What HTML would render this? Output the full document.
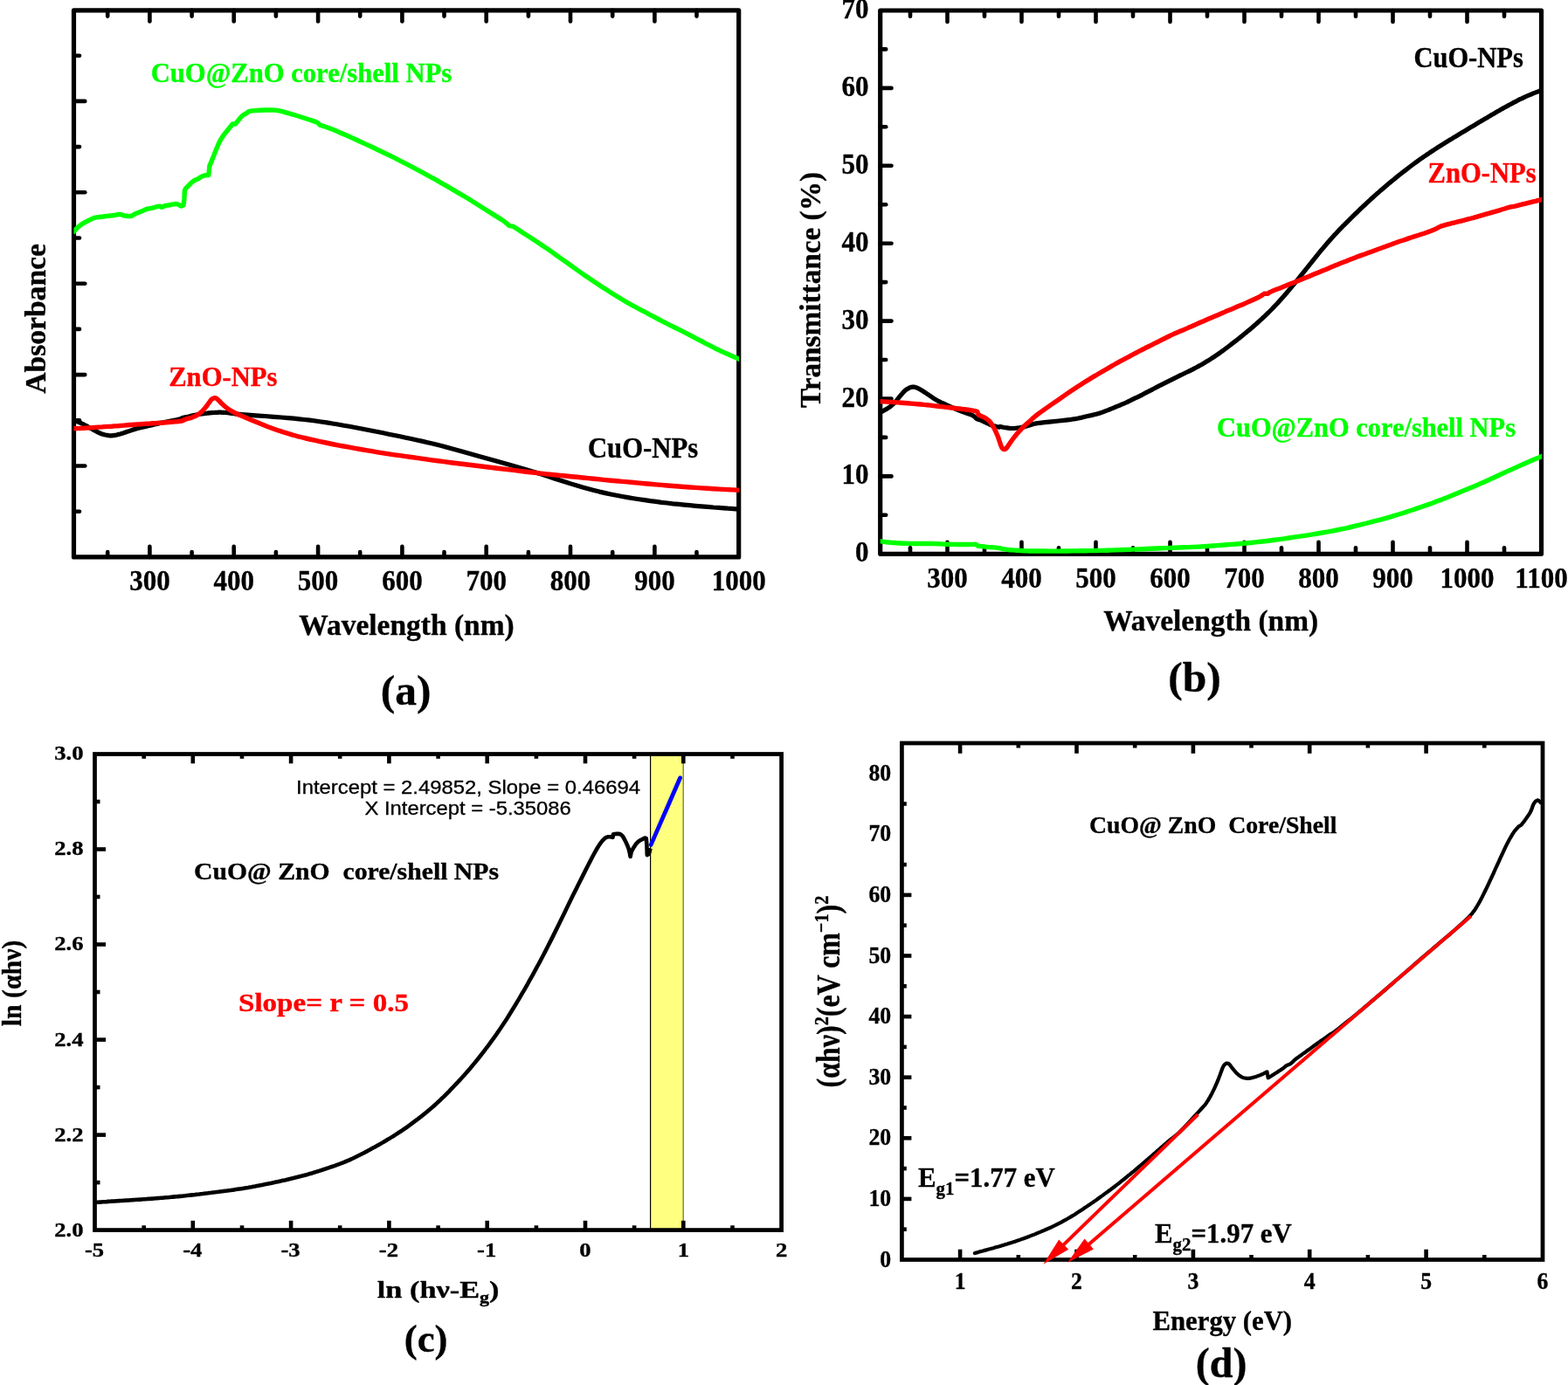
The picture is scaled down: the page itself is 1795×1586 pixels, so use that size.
<!DOCTYPE html>
<html lang="en"><head><meta charset="utf-8"><title>Optical properties of CuO, ZnO and CuO@ZnO core/shell NPs</title>
<style>
html,body{margin:0;padding:0;background:#fff;}
body{width:1795px;height:1586px;overflow:hidden;}
svg{display:block;}
</style></head><body>
<svg xmlns="http://www.w3.org/2000/svg" width="1795" height="1586" viewBox="0 0 1795 1586">
<rect x="0" y="0" width="1795" height="1586" fill="#fff"/>
<line x1="123.2" y1="637.9" x2="123.2" y2="632" stroke="#000" stroke-width="4.6" stroke-linecap="round"/>
<line x1="123.2" y1="11.9" x2="123.2" y2="18.6" stroke="#000" stroke-width="4.6" stroke-linecap="round"/>
<line x1="171.4" y1="637.9" x2="171.4" y2="625.9" stroke="#000" stroke-width="4.6" stroke-linecap="round"/>
<line x1="171.4" y1="11.9" x2="171.4" y2="24.5" stroke="#000" stroke-width="4.6" stroke-linecap="round"/>
<line x1="219.6" y1="637.9" x2="219.6" y2="632" stroke="#000" stroke-width="4.6" stroke-linecap="round"/>
<line x1="219.6" y1="11.9" x2="219.6" y2="18.6" stroke="#000" stroke-width="4.6" stroke-linecap="round"/>
<line x1="267.7" y1="637.9" x2="267.7" y2="625.9" stroke="#000" stroke-width="4.6" stroke-linecap="round"/>
<line x1="267.7" y1="11.9" x2="267.7" y2="24.5" stroke="#000" stroke-width="4.6" stroke-linecap="round"/>
<line x1="315.9" y1="637.9" x2="315.9" y2="632" stroke="#000" stroke-width="4.6" stroke-linecap="round"/>
<line x1="315.9" y1="11.9" x2="315.9" y2="18.6" stroke="#000" stroke-width="4.6" stroke-linecap="round"/>
<line x1="364.1" y1="637.9" x2="364.1" y2="625.9" stroke="#000" stroke-width="4.6" stroke-linecap="round"/>
<line x1="364.1" y1="11.9" x2="364.1" y2="24.5" stroke="#000" stroke-width="4.6" stroke-linecap="round"/>
<line x1="412.2" y1="637.9" x2="412.2" y2="632" stroke="#000" stroke-width="4.6" stroke-linecap="round"/>
<line x1="412.2" y1="11.9" x2="412.2" y2="18.6" stroke="#000" stroke-width="4.6" stroke-linecap="round"/>
<line x1="460.4" y1="637.9" x2="460.4" y2="625.9" stroke="#000" stroke-width="4.6" stroke-linecap="round"/>
<line x1="460.4" y1="11.9" x2="460.4" y2="24.5" stroke="#000" stroke-width="4.6" stroke-linecap="round"/>
<line x1="508.5" y1="637.9" x2="508.5" y2="632" stroke="#000" stroke-width="4.6" stroke-linecap="round"/>
<line x1="508.5" y1="11.9" x2="508.5" y2="18.6" stroke="#000" stroke-width="4.6" stroke-linecap="round"/>
<line x1="556.7" y1="637.9" x2="556.7" y2="625.9" stroke="#000" stroke-width="4.6" stroke-linecap="round"/>
<line x1="556.7" y1="11.9" x2="556.7" y2="24.5" stroke="#000" stroke-width="4.6" stroke-linecap="round"/>
<line x1="604.9" y1="637.9" x2="604.9" y2="632" stroke="#000" stroke-width="4.6" stroke-linecap="round"/>
<line x1="604.9" y1="11.9" x2="604.9" y2="18.6" stroke="#000" stroke-width="4.6" stroke-linecap="round"/>
<line x1="653" y1="637.9" x2="653" y2="625.9" stroke="#000" stroke-width="4.6" stroke-linecap="round"/>
<line x1="653" y1="11.9" x2="653" y2="24.5" stroke="#000" stroke-width="4.6" stroke-linecap="round"/>
<line x1="701.2" y1="637.9" x2="701.2" y2="632" stroke="#000" stroke-width="4.6" stroke-linecap="round"/>
<line x1="701.2" y1="11.9" x2="701.2" y2="18.6" stroke="#000" stroke-width="4.6" stroke-linecap="round"/>
<line x1="749.4" y1="637.9" x2="749.4" y2="625.9" stroke="#000" stroke-width="4.6" stroke-linecap="round"/>
<line x1="749.4" y1="11.9" x2="749.4" y2="24.5" stroke="#000" stroke-width="4.6" stroke-linecap="round"/>
<line x1="797.5" y1="637.9" x2="797.5" y2="632" stroke="#000" stroke-width="4.6" stroke-linecap="round"/>
<line x1="797.5" y1="11.9" x2="797.5" y2="18.6" stroke="#000" stroke-width="4.6" stroke-linecap="round"/>
<line x1="84.5" y1="63.7" x2="91" y2="63.7" stroke="#000" stroke-width="4.6" stroke-linecap="round"/>
<line x1="84.5" y1="115.9" x2="97.3" y2="115.9" stroke="#000" stroke-width="4.6" stroke-linecap="round"/>
<line x1="84.5" y1="168.1" x2="91" y2="168.1" stroke="#000" stroke-width="4.6" stroke-linecap="round"/>
<line x1="84.5" y1="220.3" x2="97.3" y2="220.3" stroke="#000" stroke-width="4.6" stroke-linecap="round"/>
<line x1="84.5" y1="272.5" x2="91" y2="272.5" stroke="#000" stroke-width="4.6" stroke-linecap="round"/>
<line x1="84.5" y1="324.7" x2="97.3" y2="324.7" stroke="#000" stroke-width="4.6" stroke-linecap="round"/>
<line x1="84.5" y1="376.9" x2="91" y2="376.9" stroke="#000" stroke-width="4.6" stroke-linecap="round"/>
<line x1="84.5" y1="429.1" x2="97.3" y2="429.1" stroke="#000" stroke-width="4.6" stroke-linecap="round"/>
<line x1="84.5" y1="481.3" x2="91" y2="481.3" stroke="#000" stroke-width="4.6" stroke-linecap="round"/>
<line x1="84.5" y1="533.5" x2="97.3" y2="533.5" stroke="#000" stroke-width="4.6" stroke-linecap="round"/>
<line x1="84.5" y1="585.7" x2="91" y2="585.7" stroke="#000" stroke-width="4.6" stroke-linecap="round"/>
<rect x="84.5" y="11.9" width="761.2" height="626" fill="none" stroke="#000" stroke-width="5.2" stroke-linejoin="round"/>
<clipPath id="ca"><rect x="84.5" y="11.9" width="761.6" height="626"/></clipPath>
<path d="M82.5 480.7 L83.8 481.2 L85.8 481.9 L88.1 482.7 L90.4 483.6 L92.3 484.3 L93.7 485 L95 485.6 L96.1 486.2 L97.2 486.8 L98.4 487.4 L99.6 488.1 L100.8 488.8 L102.1 489.5 L103.3 490.2 L104.5 490.8 L105.7 491.5 L107 492.2 L108.2 492.9 L109.4 493.5 L110.6 494.2 L111.9 494.8 L113.1 495.4 L114.3 496 L115.5 496.5 L116.8 497 L118 497.4 L119.3 497.7 L120.6 498 L121.8 498.2 L122.9 498.4 L123.8 498.6 L124.5 498.7 L125.1 498.8 L125.8 498.8 L126.6 498.8 L127.5 498.8 L128.4 498.8 L129.4 498.7 L130.4 498.6 L131.5 498.4 L132.6 498.2 L133.8 498 L135.1 497.6 L136.4 497.3 L137.6 497 L138.8 496.6 L140 496.2 L141.2 495.9 L142.4 495.4 L143.7 495 L145.1 494.5 L146.5 494.1 L148 493.6 L149.5 493.1 L151.1 492.6 L152.7 492.1 L154.3 491.6 L155.9 491.1 L157.7 490.6 L159.7 490.1 L161.9 489.5 L164.3 489 L166.8 488.4 L169.4 487.8 L171.9 487.2 L174.4 486.6 L176.8 486 L179.3 485.4 L181.7 484.9 L184.2 484.3 L186.7 483.8 L189.3 483.3 L191.8 482.8 L194.2 482.3 L196.4 481.9 L198.4 481.5 L200.3 481.1 L202 480.8 L203.6 480.4 L205 480.1 L206.2 479.7 L207.2 479.3 L208.1 478.9 L209 478.5 L209.9 478.2 L210.9 478 L211.8 477.8 L212.8 477.7 L213.8 477.6 L214.8 477.4 L216 477.1 L217.2 476.8 L218.4 476.4 L219.7 476.1 L220.9 475.8 L222.2 475.5 L223.4 475.2 L224.6 475 L225.8 474.8 L227.1 474.5 L228.3 474.3 L229.5 474.2 L230.8 474 L232 473.8 L233.2 473.7 L234.4 473.5 L235.7 473.4 L236.9 473.2 L238.1 473.1 L239.3 472.9 L240.6 472.8 L241.8 472.7 L243 472.6 L244.2 472.5 L245.5 472.5 L246.7 472.4 L247.9 472.3 L249.1 472.3 L250.4 472.2 L251.6 472.2 L252.8 472.2 L254 472.3 L255.3 472.3 L256.5 472.4 L257.7 472.5 L258.8 472.5 L259.9 472.6 L261 472.7 L262.2 472.9 L263.8 473.1 L265.4 473.3 L266.7 473.5 L268.5 473.8 L271.4 474.1 L276.1 474.5 L283.4 475.1 L292.8 475.8 L303.2 476.5 L313.4 477.3 L322.3 478 L329.7 478.6 L336.2 479.2 L342.4 479.8 L348.4 480.5 L354.6 481.2 L361.1 482 L367.5 483 L374 483.9 L380.5 485 L386.9 486 L393.4 487.2 L399.9 488.3 L406.3 489.5 L412.8 490.8 L419.2 492 L425.7 493.3 L432.2 494.5 L438.6 495.8 L445.1 497.2 L451.6 498.5 L458 499.8 L464.5 501.2 L470.9 502.5 L477.4 504 L483.9 505.4 L489.5 506.7 L494.2 507.8 L499.4 509.1 L506.3 510.8 L516.2 513.5 L530.8 517.5 L549.3 522.7 L569.2 528.3 L587.7 533.5 L602.3 537.7 L612.2 540.7 L619.1 542.8 L624.3 544.5 L629 546.1 L634.6 547.9 L641.1 550 L647.5 552 L654 554.1 L660.5 556.1 L666.9 557.9 L673.4 559.7 L679.9 561.4 L686.3 563.1 L692.8 564.6 L699.2 566 L705.7 567.3 L712.2 568.5 L718.6 569.6 L725.1 570.7 L731.6 571.7 L738 572.6 L744.5 573.6 L750.9 574.4 L757.4 575.3 L763.9 576 L770.3 576.8 L776.8 577.4 L783.3 578.1 L789.7 578.7 L796.2 579.3 L802.9 579.8 L809.9 580.4 L816.7 581 L823.1 581.4 L828.5 581.8 L832.9 582.2 L836.5 582.4 L839.5 582.6 L842.2 582.8 L844.7 583 L846.9 583.1 L848.9 583.2 L850.5 583.3 L851.8 583.4 L852.7 583.5" fill="none" stroke="#000" stroke-width="5.2" stroke-linecap="butt" stroke-linejoin="round" clip-path="url(#ca)"/>
<path d="M82.5 490.8 L84.6 490.7 L87.6 490.6 L91.1 490.5 L94.8 490.3 L98.4 490.1 L101.9 489.9 L105.6 489.7 L109.3 489.4 L113.1 489.1 L116.8 488.9 L120.4 488.6 L124.1 488.4 L127.8 488.2 L131.5 487.9 L135.2 487.7 L138.8 487.4 L142.5 487.1 L146.2 486.8 L149.9 486.5 L153.5 486.2 L157.2 485.9 L160.9 485.7 L164.6 485.4 L168.2 485.2 L171.9 485 L175.7 484.7 L179.6 484.5 L183.4 484.2 L187 484 L190.3 483.7 L193.2 483.5 L195.9 483.3 L198.4 483.1 L200.6 482.9 L202.6 482.8 L204.2 482.6 L205.6 482.4 L206.8 482.3 L207.8 482.1 L208.7 481.9 L209.5 481.6 L210.1 481.3 L210.7 480.9 L211.2 480.6 L211.8 480.3 L212.3 480.1 L212.8 480 L213.4 479.8 L214 479.7 L214.8 479.4 L215.8 479.2 L217 478.8 L218.3 478.5 L219.7 478.1 L220.9 477.6 L222.2 477.1 L223.5 476.5 L224.7 475.9 L225.9 475.3 L227.1 474.5 L228.1 473.8 L229.2 472.9 L230.1 472.1 L231.1 471.2 L232 470.3 L232.9 469.3 L233.8 468.3 L234.7 467.3 L235.5 466.3 L236.3 465.3 L237 464.4 L237.6 463.5 L238.2 462.7 L238.8 461.8 L239.3 461.1 L239.9 460.3 L240.4 459.6 L240.8 458.9 L241.3 458.3 L241.8 457.7 L242.3 457.3 L242.8 456.9 L243.3 456.6 L243.8 456.4 L244.2 456.2 L244.6 456 L245 455.9 L245.4 455.8 L245.7 455.8 L246.1 455.8 L246.4 455.8 L246.8 455.9 L247.1 456 L247.5 456.2 L247.9 456.4 L248.3 456.7 L248.8 457.1 L249.3 457.5 L249.8 458 L250.4 458.6 L251 459.2 L251.7 459.9 L252.4 460.7 L253.2 461.5 L254 462.3 L254.9 463.1 L255.9 464 L256.9 464.9 L257.9 465.8 L258.9 466.6 L259.9 467.3 L260.8 468 L261.8 468.7 L262.8 469.3 L263.8 470 L265 470.7 L266.2 471.4 L267.5 472 L268.7 472.7 L270 473.3 L270.8 473.8 L271.3 474 L271.9 474.3 L273.3 475 L276.1 476.1 L280.8 478.1 L287.1 480.7 L294 483.6 L300.7 486.3 L306.2 488.5 L310.3 490 L313.6 491.2 L316.5 492.2 L319.3 493.2 L322.3 494.1 L325.5 495.2 L328.8 496.2 L332 497.1 L335.2 498.1 L338.5 499 L341.4 499.8 L344.2 500.5 L347 501.2 L350.4 502 L354.6 503 L360.1 504.2 L366.4 505.6 L373.2 507 L380.2 508.5 L386.9 509.8 L393.4 511 L399.9 512.2 L406.3 513.4 L412.8 514.5 L419.2 515.6 L425.7 516.7 L432.2 517.8 L438.6 518.8 L445.1 519.8 L451.6 520.8 L458 521.7 L464.5 522.6 L470.9 523.5 L477.4 524.4 L483.9 525.3 L489.5 526.1 L494.2 526.8 L499.4 527.5 L506.3 528.4 L516.2 529.7 L530.8 531.5 L549.3 533.8 L569.2 536.2 L587.7 538.4 L602.3 540.2 L612.2 541.3 L619.1 542.1 L624.3 542.7 L629 543.1 L634.6 543.7 L641.1 544.4 L647.5 545 L654 545.7 L660.5 546.3 L666.9 547 L673.4 547.6 L679.9 548.3 L686.3 548.9 L692.8 549.6 L699.2 550.2 L705.7 550.8 L712.2 551.4 L718.6 551.9 L725.1 552.5 L731.6 553.1 L738 553.7 L744.5 554.3 L750.9 554.9 L757.4 555.4 L763.9 556 L770.3 556.5 L776.8 557 L783.3 557.5 L789.7 558 L796.2 558.4 L802.9 558.9 L809.9 559.3 L816.7 559.7 L823.1 560.1 L828.5 560.4 L832.9 560.6 L836.5 560.8 L839.5 560.9 L842.2 561.1 L844.7 561.2 L846.9 561.3 L848.9 561.3 L850.5 561.4 L851.8 561.5 L852.7 561.5" fill="none" stroke="#ff0000" stroke-width="5.4" stroke-linecap="butt" stroke-linejoin="round" clip-path="url(#ca)"/>
<path d="M83.1 266.9 L83.6 266.2 L84.4 265.2 L85.4 264.1 L86.4 263 L87.4 262 L88.3 261.1 L89.2 260.2 L90.2 259.3 L91.2 258.5 L92.3 257.7 L93.4 256.9 L94.6 256.1 L95.9 255.4 L97.1 254.7 L98.4 254 L99.6 253.3 L100.9 252.7 L102.1 252.1 L103.4 251.5 L104.5 250.9 L105.5 250.5 L106.4 250.1 L107.3 249.7 L108.3 249.4 L109.4 249.1 L110.7 248.9 L112.2 248.6 L113.7 248.5 L115.3 248.3 L116.8 248.1 L118.2 248 L119.7 247.8 L121.2 247.6 L122.7 247.4 L124.1 247.3 L125.6 247.1 L127.2 246.9 L128.7 246.7 L130.1 246.5 L131.5 246.3 L132.7 246.1 L133.9 245.8 L135 245.6 L136 245.5 L137 245.4 L137.9 245.5 L138.8 245.8 L139.6 246.1 L140.4 246.4 L141.3 246.7 L142.2 246.9 L143.2 247.1 L144.2 247.3 L145.2 247.4 L146.2 247.5 L147.1 247.6 L147.9 247.6 L148.8 247.6 L149.6 247.5 L150.5 247.3 L151.3 246.9 L152.2 246.4 L153 245.9 L153.9 245.3 L154.8 244.8 L155.7 244.4 L156.7 244.1 L157.7 243.7 L158.7 243.4 L159.7 243 L160.7 242.6 L161.7 242.1 L162.7 241.7 L163.7 241.3 L164.6 240.9 L165.3 240.5 L166 240.2 L166.7 239.9 L167.4 239.6 L168.2 239.3 L169.3 239 L170.5 238.8 L171.8 238.6 L173.1 238.3 L174.4 238.1 L175.6 237.8 L177 237.4 L178.3 237 L179.5 236.7 L180.5 236.5 L181.3 236.3 L182 236.2 L182.6 236.2 L183.1 236.2 L183.6 236.2 L184 236.4 L184.3 236.7 L184.6 237 L184.9 237.2 L185.4 237.2 L186 237.1 L186.7 236.7 L187.4 236.3 L188.2 235.9 L189.1 235.6 L189.9 235.4 L190.8 235.2 L191.8 235.1 L192.8 235 L194 234.8 L195.4 234.5 L197 234.2 L198.6 233.9 L200.1 233.7 L201.3 233.5 L202.2 233.6 L202.9 233.7 L203.4 233.9 L203.9 234.1 L204.4 234.4 L205 234.7 L205.7 235.1 L206.3 235.5 L206.9 235.8 L207.5 236 L208 235.9 L208.6 235.7 L209.1 235.5 L209.6 235.2 L209.9 235 L210.1 234.1 L210.3 232.7 L210.5 231.1 L210.7 229.4 L210.9 227.7 L211 225.7 L211.2 223.4 L211.2 221.2 L211.3 219.2 L211.4 217.9 L211.6 217.5 L211.8 217.1 L212.2 216.5 L212.5 216 L213 215.4 L213.5 214.8 L214.1 214.3 L214.7 213.6 L215.4 213 L216 212.3 L216.7 211.6 L217.5 210.9 L218.2 210.1 L219 209.3 L219.7 208.7 L220.5 208.1 L221.2 207.6 L221.9 207.1 L222.7 206.6 L223.4 206.2 L224.1 205.9 L224.9 205.6 L225.6 205.3 L226.3 205 L227.1 204.6 L227.8 204.2 L228.5 203.6 L229.3 203.1 L230 202.6 L230.8 202.2 L231.5 201.8 L232.2 201.6 L232.9 201.3 L233.7 201.1 L234.4 200.9 L235.3 200.8 L236.3 200.7 L237.3 200.6 L238.1 200.5 L238.7 200.5 L238.8 199.8 L238.9 199 L239.1 198 L239.2 196.9 L239.3 195.8 L239.5 194.6 L239.6 193.2 L239.7 191.7 L239.9 190.5 L239.9 189.7 L240.2 189.2 L240.5 188.5 L240.8 187.7 L241.3 186.6 L241.8 185.4 L242.4 183.9 L243.1 182.1 L243.9 180.2 L244.7 178.2 L245.5 176.2 L246.3 174.1 L247.2 171.9 L248.1 169.7 L249 167.6 L249.7 165.8 L250.4 164.3 L251 163 L251.6 161.8 L252.2 160.8 L252.8 159.6 L253.5 158.5 L254.2 157.4 L254.9 156.3 L255.7 155.3 L256.5 154.1 L257.4 152.9 L258.4 151.7 L259.4 150.5 L260.4 149.2 L261.4 148 L262.5 146.7 L263.6 145.2 L264.7 143.9 L265.6 142.7 L266.3 141.9 L269.4 142.1 L269.8 141.5 L270.5 140.6 L271.3 139.6 L272.2 138.6 L273 137.6 L273.8 136.6 L274.7 135.6 L275.5 134.5 L276.4 133.5 L277.3 132.7 L278.2 131.9 L279.2 131.3 L280.1 130.7 L281.2 130.2 L282.2 129.6 L283.1 129 L283.7 128.4 L284.4 127.8 L285.9 127.3 L288.4 126.9 L292.4 126.6 L297.7 126.2 L303.5 126 L309.2 125.9 L314.1 126.1 L317.9 126.5 L321.2 127.1 L324.2 127.9 L327.1 128.8 L330.1 129.7 L333.4 130.6 L336.6 131.5 L339.9 132.5 L343.1 133.5 L346.2 134.5 L349.3 135.5 L352.4 136.5 L355.4 137.5 L358.1 138.4 L360.2 139.1 L361.6 139.6 L362.6 140 L363.1 140.3 L363.5 140.5 L363.8 140.7 L366.2 143.1 L367.9 143.7 L370 144.4 L372.8 145.3 L376.2 146.5 L380.3 148.1 L385.1 150.1 L390.6 152.5 L396.8 155.1 L403.4 158 L410.3 161.2 L417.7 164.6 L425.7 168.3 L433.9 172.2 L442.3 176.2 L450.4 180.2 L458.5 184.3 L466.5 188.4 L474.5 192.6 L482.5 196.9 L490.6 201.3 L498.6 205.7 L506.6 210.3 L514.6 214.9 L522.6 219.6 L530.7 224.3 L539.2 229.5 L548.3 235.2 L557 240.7 L564.8 245.6 L570.8 249.4 L574.5 251.8 L576.5 253.1 L577.4 253.7 L578 254.2 L578.8 254.8 L579.9 255.7 L580.9 256.6 L581.7 257.3 L582.3 258 L582.8 258.4 L587.8 259.4 L591 261.5 L595.5 264.5 L600.8 267.9 L606.1 271.3 L610.9 274.5 L614.9 277.1 L618.5 279.5 L622.1 281.9 L626.1 284.6 L630.9 287.9 L636.9 292.2 L643.8 297.1 L651.1 302.3 L658.2 307.4 L664.5 311.9 L670 315.7 L675 319.1 L679.7 322.2 L684.3 325.3 L689 328.4 L693.9 331.6 L698.8 334.7 L703.7 337.8 L708.6 340.8 L713.5 343.7 L718.4 346.6 L723.3 349.3 L728.2 352 L733.1 354.6 L738.1 357.2 L743 359.8 L747.9 362.4 L752.8 365 L757.7 367.6 L762.6 370.1 L767.5 372.6 L772.4 375 L777.3 377.4 L782.2 379.9 L787.1 382.3 L792.2 385 L797.5 387.8 L802.7 390.5 L807.5 393.1 L811.6 395.2 L814.8 396.9 L817.4 398.2 L819.5 399.3 L821.6 400.3 L823.8 401.3 L826.3 402.5 L828.9 403.6 L831.4 404.8 L833.8 405.8 L836.1 406.9 L838.3 407.8 L840.4 408.8 L842.5 409.6 L844.3 410.4 L845.9 411.1 L847.3 411.7 L848.5 412.2 L849.4 412.6 L850.2 413 L850.8 413.2" fill="none" stroke="#00ff00" stroke-width="5.4" stroke-linecap="butt" stroke-linejoin="round" clip-path="url(#ca)"/>
<text transform="translate(171.4 676.4) scale(0.94 1)" font-family="'Liberation Serif','Times New Roman',serif" font-size="33" font-weight="bold" fill="#000" text-anchor="middle" stroke="#000" stroke-width="0.35" stroke-linejoin="round" xml:space="preserve">300</text>
<text transform="translate(267.7 676.4) scale(0.94 1)" font-family="'Liberation Serif','Times New Roman',serif" font-size="33" font-weight="bold" fill="#000" text-anchor="middle" stroke="#000" stroke-width="0.35" stroke-linejoin="round" xml:space="preserve">400</text>
<text transform="translate(364.1 676.4) scale(0.94 1)" font-family="'Liberation Serif','Times New Roman',serif" font-size="33" font-weight="bold" fill="#000" text-anchor="middle" stroke="#000" stroke-width="0.35" stroke-linejoin="round" xml:space="preserve">500</text>
<text transform="translate(460.4 676.4) scale(0.94 1)" font-family="'Liberation Serif','Times New Roman',serif" font-size="33" font-weight="bold" fill="#000" text-anchor="middle" stroke="#000" stroke-width="0.35" stroke-linejoin="round" xml:space="preserve">600</text>
<text transform="translate(556.7 676.4) scale(0.94 1)" font-family="'Liberation Serif','Times New Roman',serif" font-size="33" font-weight="bold" fill="#000" text-anchor="middle" stroke="#000" stroke-width="0.35" stroke-linejoin="round" xml:space="preserve">700</text>
<text transform="translate(653 676.4) scale(0.94 1)" font-family="'Liberation Serif','Times New Roman',serif" font-size="33" font-weight="bold" fill="#000" text-anchor="middle" stroke="#000" stroke-width="0.35" stroke-linejoin="round" xml:space="preserve">800</text>
<text transform="translate(749.4 676.4) scale(0.94 1)" font-family="'Liberation Serif','Times New Roman',serif" font-size="33" font-weight="bold" fill="#000" text-anchor="middle" stroke="#000" stroke-width="0.35" stroke-linejoin="round" xml:space="preserve">900</text>
<text transform="translate(845.7 676.4) scale(0.94 1)" font-family="'Liberation Serif','Times New Roman',serif" font-size="33" font-weight="bold" fill="#000" text-anchor="middle" stroke="#000" stroke-width="0.35" stroke-linejoin="round" xml:space="preserve">1000</text>
<text transform="translate(465.5 726.6)" font-family="'Liberation Serif','Times New Roman',serif" font-size="33.2" font-weight="bold" fill="#000" text-anchor="middle" textLength="246.5" lengthAdjust="spacingAndGlyphs" stroke="#000" stroke-width="0.35" stroke-linejoin="round" xml:space="preserve">Wavelength (nm)</text>
<text transform="translate(52 364.9) rotate(-90)" font-family="'Liberation Serif','Times New Roman',serif" font-size="33.2" font-weight="bold" fill="#000" text-anchor="middle" textLength="171.5" lengthAdjust="spacingAndGlyphs" stroke="#000" stroke-width="0.35" stroke-linejoin="round" xml:space="preserve">Absorbance</text>
<text transform="translate(464.6 806.6)" font-family="'Liberation Serif','Times New Roman',serif" font-size="49.5" font-weight="bold" fill="#000" text-anchor="middle" stroke="#000" stroke-width="0.35" stroke-linejoin="round" xml:space="preserve">(a)</text>
<text transform="translate(172.7 93.8)" font-family="'Liberation Serif','Times New Roman',serif" font-size="31.6" font-weight="bold" fill="#00ff00" text-anchor="start" textLength="344.6" lengthAdjust="spacingAndGlyphs" stroke="#00ff00" stroke-width="0.35" stroke-linejoin="round" xml:space="preserve">CuO@ZnO core/shell NPs</text>
<text transform="translate(193.2 442)" font-family="'Liberation Serif','Times New Roman',serif" font-size="32.2" font-weight="bold" fill="#ff0000" text-anchor="start" textLength="124.2" lengthAdjust="spacingAndGlyphs" stroke="#ff0000" stroke-width="0.35" stroke-linejoin="round" xml:space="preserve">ZnO-NPs</text>
<text transform="translate(672.9 523.6)" font-family="'Liberation Serif','Times New Roman',serif" font-size="34.6" font-weight="bold" fill="#000" text-anchor="start" textLength="126.2" lengthAdjust="spacingAndGlyphs" stroke="#000" stroke-width="0.35" stroke-linejoin="round" xml:space="preserve">CuO-NPs</text>
<line x1="1042" y1="634.3" x2="1042" y2="627.3" stroke="#000" stroke-width="4.6" stroke-linecap="round"/>
<line x1="1042" y1="12" x2="1042" y2="18.8" stroke="#000" stroke-width="4.6" stroke-linecap="round"/>
<line x1="1084.5" y1="634.3" x2="1084.5" y2="620.8" stroke="#000" stroke-width="4.6" stroke-linecap="round"/>
<line x1="1084.5" y1="12" x2="1084.5" y2="25" stroke="#000" stroke-width="4.6" stroke-linecap="round"/>
<line x1="1127" y1="634.3" x2="1127" y2="627.3" stroke="#000" stroke-width="4.6" stroke-linecap="round"/>
<line x1="1127" y1="12" x2="1127" y2="18.8" stroke="#000" stroke-width="4.6" stroke-linecap="round"/>
<line x1="1169.5" y1="634.3" x2="1169.5" y2="620.8" stroke="#000" stroke-width="4.6" stroke-linecap="round"/>
<line x1="1169.5" y1="12" x2="1169.5" y2="25" stroke="#000" stroke-width="4.6" stroke-linecap="round"/>
<line x1="1212" y1="634.3" x2="1212" y2="627.3" stroke="#000" stroke-width="4.6" stroke-linecap="round"/>
<line x1="1212" y1="12" x2="1212" y2="18.8" stroke="#000" stroke-width="4.6" stroke-linecap="round"/>
<line x1="1254.5" y1="634.3" x2="1254.5" y2="620.8" stroke="#000" stroke-width="4.6" stroke-linecap="round"/>
<line x1="1254.5" y1="12" x2="1254.5" y2="25" stroke="#000" stroke-width="4.6" stroke-linecap="round"/>
<line x1="1297" y1="634.3" x2="1297" y2="627.3" stroke="#000" stroke-width="4.6" stroke-linecap="round"/>
<line x1="1297" y1="12" x2="1297" y2="18.8" stroke="#000" stroke-width="4.6" stroke-linecap="round"/>
<line x1="1339.5" y1="634.3" x2="1339.5" y2="620.8" stroke="#000" stroke-width="4.6" stroke-linecap="round"/>
<line x1="1339.5" y1="12" x2="1339.5" y2="25" stroke="#000" stroke-width="4.6" stroke-linecap="round"/>
<line x1="1382" y1="634.3" x2="1382" y2="627.3" stroke="#000" stroke-width="4.6" stroke-linecap="round"/>
<line x1="1382" y1="12" x2="1382" y2="18.8" stroke="#000" stroke-width="4.6" stroke-linecap="round"/>
<line x1="1424.5" y1="634.3" x2="1424.5" y2="620.8" stroke="#000" stroke-width="4.6" stroke-linecap="round"/>
<line x1="1424.5" y1="12" x2="1424.5" y2="25" stroke="#000" stroke-width="4.6" stroke-linecap="round"/>
<line x1="1467" y1="634.3" x2="1467" y2="627.3" stroke="#000" stroke-width="4.6" stroke-linecap="round"/>
<line x1="1467" y1="12" x2="1467" y2="18.8" stroke="#000" stroke-width="4.6" stroke-linecap="round"/>
<line x1="1509.5" y1="634.3" x2="1509.5" y2="620.8" stroke="#000" stroke-width="4.6" stroke-linecap="round"/>
<line x1="1509.5" y1="12" x2="1509.5" y2="25" stroke="#000" stroke-width="4.6" stroke-linecap="round"/>
<line x1="1552" y1="634.3" x2="1552" y2="627.3" stroke="#000" stroke-width="4.6" stroke-linecap="round"/>
<line x1="1552" y1="12" x2="1552" y2="18.8" stroke="#000" stroke-width="4.6" stroke-linecap="round"/>
<line x1="1594.5" y1="634.3" x2="1594.5" y2="620.8" stroke="#000" stroke-width="4.6" stroke-linecap="round"/>
<line x1="1594.5" y1="12" x2="1594.5" y2="25" stroke="#000" stroke-width="4.6" stroke-linecap="round"/>
<line x1="1637" y1="634.3" x2="1637" y2="627.3" stroke="#000" stroke-width="4.6" stroke-linecap="round"/>
<line x1="1637" y1="12" x2="1637" y2="18.8" stroke="#000" stroke-width="4.6" stroke-linecap="round"/>
<line x1="1679.5" y1="634.3" x2="1679.5" y2="620.8" stroke="#000" stroke-width="4.6" stroke-linecap="round"/>
<line x1="1679.5" y1="12" x2="1679.5" y2="25" stroke="#000" stroke-width="4.6" stroke-linecap="round"/>
<line x1="1722" y1="634.3" x2="1722" y2="627.3" stroke="#000" stroke-width="4.6" stroke-linecap="round"/>
<line x1="1722" y1="12" x2="1722" y2="18.8" stroke="#000" stroke-width="4.6" stroke-linecap="round"/>
<line x1="1007.7" y1="589.8" x2="1014.2" y2="589.8" stroke="#000" stroke-width="4.6" stroke-linecap="round"/>
<line x1="1007.7" y1="545.4" x2="1020.5" y2="545.4" stroke="#000" stroke-width="4.6" stroke-linecap="round"/>
<line x1="1007.7" y1="500.9" x2="1014.2" y2="500.9" stroke="#000" stroke-width="4.6" stroke-linecap="round"/>
<line x1="1007.7" y1="456.5" x2="1020.5" y2="456.5" stroke="#000" stroke-width="4.6" stroke-linecap="round"/>
<line x1="1007.7" y1="412" x2="1014.2" y2="412" stroke="#000" stroke-width="4.6" stroke-linecap="round"/>
<line x1="1007.7" y1="367.6" x2="1020.5" y2="367.6" stroke="#000" stroke-width="4.6" stroke-linecap="round"/>
<line x1="1007.7" y1="323.1" x2="1014.2" y2="323.1" stroke="#000" stroke-width="4.6" stroke-linecap="round"/>
<line x1="1007.7" y1="278.7" x2="1020.5" y2="278.7" stroke="#000" stroke-width="4.6" stroke-linecap="round"/>
<line x1="1007.7" y1="234.2" x2="1014.2" y2="234.2" stroke="#000" stroke-width="4.6" stroke-linecap="round"/>
<line x1="1007.7" y1="189.8" x2="1020.5" y2="189.8" stroke="#000" stroke-width="4.6" stroke-linecap="round"/>
<line x1="1007.7" y1="145.3" x2="1014.2" y2="145.3" stroke="#000" stroke-width="4.6" stroke-linecap="round"/>
<line x1="1007.7" y1="100.9" x2="1020.5" y2="100.9" stroke="#000" stroke-width="4.6" stroke-linecap="round"/>
<line x1="1007.7" y1="56.4" x2="1014.2" y2="56.4" stroke="#000" stroke-width="4.6" stroke-linecap="round"/>
<rect x="1007.7" y="12" width="756.8" height="622.3" fill="none" stroke="#000" stroke-width="5.2" stroke-linejoin="round"/>
<clipPath id="cb"><rect x="1007.7" y="12" width="757.2" height="625.3"/></clipPath>
<path d="M1004.9 474.2 L1005.3 473.9 L1005.7 473.6 L1006.3 473.2 L1007 472.7 L1007.7 472.3 L1008.5 471.9 L1009.3 471.4 L1010.2 471 L1011.2 470.4 L1012.3 469.9 L1013.4 469.2 L1014.6 468.6 L1015.9 467.8 L1017.1 467.1 L1018.4 466.2 L1019.6 465.2 L1020.8 464.2 L1022.1 463.1 L1023.3 461.9 L1024.5 460.7 L1025.8 459.3 L1027 457.8 L1028.3 456.2 L1029.5 454.7 L1030.6 453.3 L1031.7 452.1 L1032.7 450.9 L1033.6 449.8 L1034.6 448.7 L1035.5 447.8 L1036.5 446.9 L1037.5 446.2 L1038.5 445.5 L1039.5 444.9 L1040.4 444.4 L1041.4 443.9 L1042.4 443.6 L1043.4 443.3 L1044.4 443.2 L1045.3 443.1 L1046.3 443.2 L1047.3 443.3 L1048.2 443.6 L1049.2 443.9 L1050.3 444.4 L1051.4 444.9 L1052.6 445.5 L1053.8 446.2 L1055.1 447 L1056.4 447.8 L1057.8 448.7 L1059.2 449.7 L1060.7 450.7 L1062.2 451.7 L1063.7 452.7 L1065.2 453.7 L1066.6 454.7 L1068.1 455.7 L1069.5 456.7 L1071.1 457.6 L1072.7 458.5 L1074.3 459.3 L1075.9 460.1 L1077.7 461 L1079.7 461.9 L1081.9 462.9 L1084.3 464 L1086.8 465.2 L1089.4 466.3 L1091.9 467.4 L1094.4 468.5 L1097 469.5 L1099.5 470.5 L1102 471.5 L1104.2 472.3 L1106.2 473.1 L1108.1 473.7 L1109.9 474.3 L1111.4 474.8 L1112.8 475.4 L1113.8 475.9 L1114.7 476.4 L1115.3 476.9 L1115.9 477.4 L1116.4 477.8 L1116.9 478.2 L1117.2 478.6 L1117.4 479 L1117.8 479.3 L1118.3 479.7 L1118.9 480 L1119.7 480.2 L1120.6 480.5 L1121.5 480.8 L1122.6 481.1 L1123.7 481.6 L1124.9 482.2 L1126.2 482.8 L1127.4 483.4 L1128.7 484 L1129.9 484.5 L1131.1 485.1 L1132.4 485.7 L1133.6 486.3 L1134.8 486.8 L1136.1 487.2 L1137.4 487.6 L1138.7 487.9 L1139.9 488.2 L1140.9 488.5 L1141.8 488.7 L1142.5 488.9 L1143.1 489.1 L1143.6 489.2 L1144 489.2 L1144.2 489.1 L1144.2 489 L1144.2 488.7 L1144.3 488.6 L1144.6 488.5 L1145.3 488.6 L1146.2 488.8 L1147.2 489 L1148.3 489.2 L1149.5 489.5 L1150.9 489.7 L1152.4 489.9 L1153.9 490.1 L1155.4 490.3 L1156.9 490.5 L1158.1 490.5 L1159.3 490.5 L1160.4 490.5 L1161.6 490.5 L1163 490.3 L1164.6 490.1 L1166.3 489.9 L1168 489.6 L1169.8 489.2 L1171.6 488.9 L1173.3 488.4 L1175 487.9 L1176.6 487.4 L1178.4 486.9 L1180.2 486.4 L1181.6 486 L1182.7 485.6 L1184.1 485.3 L1186.3 484.9 L1190 484.3 L1195.9 483.6 L1203.6 482.8 L1212 482 L1220 481.1 L1226.4 480.3 L1231 479.6 L1234.4 479 L1237.2 478.4 L1239.8 477.7 L1242.8 477 L1246.1 476.3 L1249.3 475.6 L1252.6 474.8 L1255.9 473.9 L1259.2 473 L1262.5 471.9 L1265.7 470.6 L1269 469.4 L1270 469 L1272 468.2 L1274 467.4 L1276 466.5 L1278 465.7 L1280 464.9 L1282 464.1 L1284 463.2 L1286 462.4 L1288 461.5 L1290 460.6 L1292 459.6 L1294 458.7 L1296 457.7 L1298 456.7 L1300 455.7 L1302 454.8 L1304 453.8 L1306 452.8 L1308 451.8 L1310 450.7 L1312 449.7 L1314 448.7 L1316 447.6 L1318 446.6 L1320 445.5 L1322 444.5 L1324 443.4 L1326 442.4 L1328 441.3 L1330 440.3 L1332 439.3 L1334 438.3 L1336 437.3 L1338 436.3 L1340 435.3 L1342 434.3 L1344 433.3 L1346 432.3 L1348 431.4 L1350 430.4 L1352 429.4 L1354 428.5 L1356 427.5 L1358 426.5 L1360 425.6 L1362 424.6 L1364 423.6 L1366 422.6 L1368 421.5 L1370 420.5 L1372 419.4 L1374 418.3 L1376 417.2 L1378 416 L1380 414.8 L1382 413.6 L1384 412.4 L1386 411.1 L1388 409.8 L1390 408.5 L1392 407.1 L1394 405.8 L1396 404.3 L1398 402.9 L1400 401.5 L1402 400 L1404 398.5 L1406 397 L1408 395.5 L1410 393.9 L1412 392.4 L1414 390.8 L1416 389.3 L1418 387.7 L1420 386.1 L1422 384.5 L1424 382.8 L1426 381.2 L1428 379.5 L1430 377.9 L1432 376.2 L1434 374.5 L1436 372.7 L1438 371 L1440 369.2 L1442 367.4 L1444 365.6 L1446 363.7 L1448 361.9 L1450 359.9 L1452 358 L1454 356 L1456 354 L1458 351.9 L1460 349.8 L1462 347.7 L1464 345.5 L1466 343.3 L1468 341.1 L1470 338.8 L1472 336.5 L1474 334.1 L1476 331.8 L1478 329.4 L1480 326.9 L1482 324.5 L1484 322 L1486 319.6 L1488 317.1 L1490 314.6 L1492 312.1 L1494 309.6 L1496 307.1 L1498 304.6 L1500 302.1 L1502 299.6 L1504 297.1 L1506 294.6 L1508 292.1 L1510 289.7 L1512 287.2 L1514 284.8 L1516 282.5 L1518 280.1 L1520 277.8 L1522 275.5 L1524 273.2 L1526 271 L1528 268.8 L1530 266.7 L1532 264.5 L1534 262.4 L1536 260.4 L1538 258.3 L1540 256.3 L1542 254.3 L1544 252.3 L1546 250.3 L1548 248.4 L1550 246.4 L1552 244.5 L1554 242.6 L1556 240.7 L1558 238.7 L1560 236.8 L1562 235 L1564 233.1 L1566 231.2 L1568 229.4 L1570 227.5 L1572 225.7 L1574 223.9 L1576 222.1 L1578 220.4 L1580 218.6 L1582 216.9 L1584 215.2 L1586 213.5 L1588 211.8 L1590 210.1 L1592 208.4 L1594 206.8 L1596 205.2 L1598 203.5 L1600 201.9 L1602 200.3 L1604 198.7 L1606 197.2 L1608 195.6 L1610 194.1 L1612 192.5 L1614 191 L1616 189.5 L1618 188 L1620 186.5 L1622 185.1 L1624 183.6 L1626 182.2 L1628 180.8 L1630 179.4 L1632 178.1 L1634 176.7 L1636 175.4 L1638 174 L1640 172.7 L1642 171.4 L1644 170.1 L1646 168.8 L1648 167.6 L1650 166.3 L1652 165.1 L1654 163.8 L1656 162.6 L1658 161.3 L1660 160.1 L1662 158.9 L1664 157.6 L1666 156.4 L1668 155.2 L1670 154 L1672 152.8 L1674 151.6 L1676 150.4 L1678 149.2 L1680 148 L1682 146.8 L1684 145.6 L1686 144.4 L1688 143.2 L1690 142 L1692 140.8 L1694 139.6 L1696 138.4 L1698 137.3 L1700 136.1 L1702 134.9 L1704 133.7 L1706 132.5 L1708 131.3 L1710 130.2 L1712 129 L1714 127.8 L1716 126.7 L1718 125.5 L1720 124.4 L1722 123.3 L1724 122.2 L1726 121.1 L1728 120 L1730 119 L1732 117.9 L1734 116.8 L1736 115.8 L1738 114.7 L1740 113.7 L1742 112.8 L1744 111.8 L1746 110.9 L1748 110 L1750 109.1 L1752 108.3 L1754 107.5 L1756 106.6 L1758 105.9 L1760 105.1 L1761.7 104.5 L1763.4 103.8 L1765.1 103.2 L1766.5 102.7 L1767.7 102.3 L1768.7 101.9 L1769.4 101.6" fill="none" stroke="#000" stroke-width="5.2" stroke-linecap="butt" stroke-linejoin="round" clip-path="url(#cb)"/>
<path d="M1004.9 459.6 L1007.6 459.7 L1011.4 459.9 L1015.8 460.1 L1020.4 460.4 L1024.5 460.7 L1028.3 460.9 L1032 461.2 L1035.6 461.5 L1039.2 461.8 L1042.9 462.1 L1046.6 462.4 L1050.3 462.7 L1053.9 463 L1057.6 463.4 L1061.3 463.7 L1065 464.1 L1068.6 464.6 L1072.3 465 L1076 465.5 L1079.7 465.9 L1083.5 466.4 L1087.4 466.8 L1091.3 467.3 L1094.9 467.7 L1098.1 468 L1100.6 468.3 L1102.7 468.6 L1104.5 468.8 L1106.2 469 L1107.9 469.2 L1109.5 469.5 L1111.1 469.7 L1112.6 470 L1114 470.2 L1115.2 470.5 L1116.2 470.7 L1117.1 470.9 L1117.9 471.1 L1118.4 471.3 L1118.9 471.5 L1119.5 474.2 L1119.9 474.4 L1120.4 474.8 L1121.1 475.3 L1121.8 475.8 L1122.6 476.2 L1123.4 476.6 L1124.4 477 L1125.4 477.4 L1126.5 477.9 L1127.5 478.4 L1128.5 479.1 L1129.5 479.7 L1130.5 480.5 L1131.5 481.3 L1132.4 482.1 L1133.2 483 L1133.9 483.9 L1134.6 484.9 L1135.3 485.9 L1136 487 L1136.8 488.2 L1137.5 489.6 L1138.3 490.9 L1139 492.3 L1139.7 493.8 L1140.4 495.2 L1141 496.7 L1141.6 498.1 L1142.2 499.6 L1142.8 501.1 L1143.3 502.6 L1143.8 504.2 L1144.3 505.7 L1144.8 507.2 L1145.2 508.5 L1145.6 509.6 L1146 510.5 L1146.3 511.4 L1146.7 512.1 L1147.1 512.8 L1147.5 513.3 L1148 513.8 L1148.5 514.2 L1149 514.5 L1149.5 514.6 L1150 514.6 L1150.5 514.5 L1151 514.2 L1151.4 513.9 L1152 513.4 L1152.5 512.7 L1153.1 512 L1153.7 511.1 L1154.3 510.1 L1155 509.1 L1155.8 508 L1156.6 506.8 L1157.5 505.5 L1158.4 504.2 L1159.3 503 L1160.3 501.7 L1161.2 500.5 L1162.2 499.2 L1163.2 498 L1164.2 496.8 L1165.2 495.7 L1166 494.7 L1166.9 493.7 L1167.9 492.6 L1169.1 491.3 L1170.6 489.9 L1172.1 488.4 L1173.8 486.8 L1175.7 485.1 L1177.7 483.3 L1179.5 481.7 L1181.2 480.1 L1183.2 478.3 L1185.9 476 L1190 472.9 L1196 468.6 L1203.8 463.1 L1212.1 457.4 L1220 451.9 L1226.4 447.5 L1231 444.5 L1234.4 442.2 L1237.2 440.4 L1239.8 438.7 L1242.8 436.9 L1246.1 434.9 L1249.3 432.9 L1252.6 430.9 L1255.9 429 L1259.2 427 L1262.5 425.1 L1265.7 423.2 L1269 421.3 L1272.3 419.4 L1275.6 417.5 L1278.9 415.7 L1282.1 413.9 L1285.4 412.2 L1288.7 410.4 L1292 408.7 L1295.2 406.9 L1298.5 405.2 L1301.8 403.4 L1305.1 401.7 L1308.4 400 L1311.6 398.3 L1314.9 396.7 L1318.2 395.1 L1321.5 393.4 L1324.8 391.8 L1328 390.1 L1331.3 388.5 L1334.6 386.8 L1337.9 385.2 L1341.1 383.6 L1344.4 382.1 L1347.7 380.7 L1351 379.3 L1354.3 378 L1357.5 376.6 L1360.8 375.1 L1364.1 373.7 L1367.4 372.2 L1370.7 370.8 L1373.9 369.3 L1377.2 367.9 L1380.5 366.5 L1383.8 365.1 L1387 363.7 L1390.3 362.3 L1393.6 360.9 L1396.9 359.5 L1400.2 358.1 L1403.4 356.6 L1406.7 355.2 L1410 353.9 L1413.3 352.5 L1416.6 351.1 L1419.8 349.8 L1423.1 348.4 L1426.5 346.9 L1430.1 345.3 L1433.5 343.8 L1436.8 342.3 L1439.5 341 L1441.8 339.8 L1443.8 338.6 L1445.4 337.6 L1446.7 336.7 L1447.7 336.1 L1451 336.4 L1451.5 336.1 L1452 335.7 L1452.9 335.1 L1454.1 334.4 L1455.9 333.6 L1458.4 332.5 L1461.6 331.3 L1465.2 329.9 L1468.8 328.4 L1472.3 327 L1475.4 325.8 L1478.4 324.6 L1481.5 323.4 L1484.8 322.1 L1488.7 320.5 L1493.3 318.6 L1498.6 316.4 L1504.1 314.1 L1509.4 311.9 L1514 310 L1518 308.4 L1521.5 306.9 L1524.7 305.6 L1527.8 304.3 L1531.1 303 L1534.5 301.6 L1537.9 300.3 L1541.3 298.9 L1544.7 297.5 L1548.1 296.2 L1551.5 294.9 L1554.9 293.6 L1558.3 292.4 L1561.7 291.2 L1565.1 289.9 L1568.5 288.7 L1571.9 287.5 L1575.3 286.2 L1578.7 285 L1582.1 283.8 L1585.5 282.5 L1589 281.2 L1592.4 280 L1595.8 278.7 L1599.2 277.5 L1602.6 276.3 L1606 275.2 L1609.4 274.1 L1612.8 272.9 L1616.2 271.8 L1619.7 270.7 L1623.4 269.5 L1627 268.3 L1630.4 267.2 L1633.2 266.2 L1635.5 265.4 L1637.2 264.8 L1638.7 264.2 L1640.2 263.6 L1641.7 262.9 L1643.4 262.2 L1645.1 261.3 L1646.8 260.4 L1648.5 259.6 L1650.2 258.8 L1651.9 258.3 L1653.6 257.8 L1655.3 257.3 L1657 256.9 L1658.8 256.5 L1660.3 256.1 L1661.7 255.7 L1663.2 255.4 L1665 255 L1667.3 254.4 L1670.1 253.7 L1673.5 252.8 L1677.1 251.9 L1680.7 250.9 L1684.3 250 L1687.7 249.1 L1691.1 248.1 L1694.5 247.1 L1697.9 246.2 L1701.3 245.2 L1704.9 244.2 L1708.5 243.1 L1712.1 242.1 L1715.5 241.1 L1718.3 240.2 L1720.6 239.5 L1722.4 239 L1723.9 238.5 L1725.3 238 L1726.8 237.6 L1728.4 237.2 L1729.8 236.9 L1731.3 236.6 L1733.1 236.3 L1735.4 235.8 L1738.3 235.1 L1741.8 234.2 L1745.5 233.3 L1749.2 232.4 L1752.4 231.6 L1755.2 230.9 L1757.8 230.3 L1760.3 229.6 L1762.4 229.1 L1764.3 228.6 L1765.8 228.2 L1767.1 227.9 L1768.1 227.7 L1768.8 227.6 L1769.4 227.4" fill="none" stroke="#ff0000" stroke-width="5.4" stroke-linecap="butt" stroke-linejoin="round" clip-path="url(#cb)"/>
<path d="M1005 619.3 L1006.5 619.6 L1008.6 619.9 L1011.1 620.3 L1013.9 620.7 L1016.7 621 L1019.7 621.3 L1023 621.5 L1026.5 621.8 L1030 622 L1033.4 622.2 L1036.8 622.3 L1040.1 622.4 L1043.5 622.4 L1046.8 622.5 L1050.1 622.5 L1053.5 622.5 L1056.8 622.5 L1060.2 622.5 L1063.5 622.5 L1066.9 622.5 L1070.2 622.6 L1073.5 622.7 L1076.9 622.9 L1080.2 623.1 L1083.6 623.2 L1086.9 623.3 L1090.3 623.4 L1093.6 623.4 L1096.9 623.5 L1100.3 623.5 L1103.9 623.5 L1107.8 623.5 L1111.5 623.4 L1114.7 623.4 L1117 623.3 L1119.5 625.2 L1121 625.3 L1123 625.6 L1125.4 625.8 L1128 626.1 L1130.4 626.4 L1132.7 626.6 L1135.1 626.7 L1137.6 626.9 L1139.9 627.1 L1142.1 627.4 L1143.9 627.6 L1145.6 627.9 L1147.2 628.3 L1148.8 628.6 L1150.4 628.9 L1152 629.1 L1153.4 629.3 L1154.8 629.5 L1156.6 629.7 L1158.8 629.9 L1161.6 630.1 L1164.9 630.3 L1168.4 630.5 L1172 630.7 L1175.5 630.9 L1178.7 631 L1181.8 631 L1184.9 631 L1188.3 631 L1192.2 631 L1196.7 631 L1201.6 631.1 L1206.8 631.1 L1212.1 631.1 L1217.3 631 L1222.3 631 L1227.3 630.9 L1232.3 630.9 L1237.3 630.8 L1242.3 630.7 L1247 630.6 L1251.2 630.6 L1255.6 630.5 L1260.8 630.4 L1267.4 630.2 L1276.2 629.9 L1286.7 629.5 L1297.8 629.1 L1308.4 628.7 L1317.3 628.3 L1324.2 628 L1329.8 627.8 L1334.8 627.6 L1339.5 627.4 L1344.6 627.2 L1350.1 627 L1355.5 626.8 L1361 626.6 L1366.4 626.4 L1371.9 626.1 L1377.4 625.8 L1382.8 625.4 L1388.3 625 L1393.7 624.6 L1399.2 624.2 L1404.7 623.8 L1410.1 623.4 L1415.6 623 L1421 622.5 L1426.5 622 L1431.9 621.5 L1437.4 620.9 L1442.9 620.3 L1448.3 619.7 L1453.8 619 L1459.2 618.3 L1464.7 617.6 L1470.2 616.8 L1475.6 616 L1481.1 615.2 L1486.5 614.4 L1492 613.6 L1497.5 612.8 L1502.9 611.9 L1508.4 611 L1513.8 610 L1519.3 609.1 L1524.8 608.1 L1530.2 607 L1535.7 605.9 L1541.1 604.8 L1546.6 603.5 L1552.1 602.2 L1557.5 600.9 L1563 599.5 L1568.4 598.1 L1573.9 596.7 L1579.4 595.3 L1584.8 593.8 L1590.3 592.3 L1595.7 590.7 L1601.2 589 L1606.7 587.3 L1612.1 585.5 L1617.6 583.7 L1623 581.9 L1628.5 580 L1634 578.1 L1639.4 576.2 L1644.9 574.1 L1650.3 572.1 L1655.8 569.9 L1661.3 567.7 L1666.7 565.5 L1672.2 563.2 L1677.6 561 L1683.1 558.7 L1688.6 556.5 L1694 554.1 L1699.5 551.8 L1704.9 549.3 L1710.4 546.8 L1715.8 544.2 L1721.3 541.6 L1726.8 539.1 L1732.5 536.6 L1738.5 533.9 L1744.4 531.3 L1749.7 529 L1754.1 527.1 L1757.3 525.7 L1759.5 524.8 L1761.2 524.2 L1762.7 523.6 L1764.4 522.8 L1766.4 521.8 L1768.5 520.7 L1770.4 519.6 L1772 518.7 L1773.2 518" fill="none" stroke="#00ff00" stroke-width="5.4" stroke-linecap="butt" stroke-linejoin="round" clip-path="url(#cb)"/>
<text transform="translate(1084.5 672.5) scale(0.94 1)" font-family="'Liberation Serif','Times New Roman',serif" font-size="33" font-weight="bold" fill="#000" text-anchor="middle" stroke="#000" stroke-width="0.35" stroke-linejoin="round" xml:space="preserve">300</text>
<text transform="translate(1169.5 672.5) scale(0.94 1)" font-family="'Liberation Serif','Times New Roman',serif" font-size="33" font-weight="bold" fill="#000" text-anchor="middle" stroke="#000" stroke-width="0.35" stroke-linejoin="round" xml:space="preserve">400</text>
<text transform="translate(1254.5 672.5) scale(0.94 1)" font-family="'Liberation Serif','Times New Roman',serif" font-size="33" font-weight="bold" fill="#000" text-anchor="middle" stroke="#000" stroke-width="0.35" stroke-linejoin="round" xml:space="preserve">500</text>
<text transform="translate(1339.5 672.5) scale(0.94 1)" font-family="'Liberation Serif','Times New Roman',serif" font-size="33" font-weight="bold" fill="#000" text-anchor="middle" stroke="#000" stroke-width="0.35" stroke-linejoin="round" xml:space="preserve">600</text>
<text transform="translate(1424.5 672.5) scale(0.94 1)" font-family="'Liberation Serif','Times New Roman',serif" font-size="33" font-weight="bold" fill="#000" text-anchor="middle" stroke="#000" stroke-width="0.35" stroke-linejoin="round" xml:space="preserve">700</text>
<text transform="translate(1509.5 672.5) scale(0.94 1)" font-family="'Liberation Serif','Times New Roman',serif" font-size="33" font-weight="bold" fill="#000" text-anchor="middle" stroke="#000" stroke-width="0.35" stroke-linejoin="round" xml:space="preserve">800</text>
<text transform="translate(1594.5 672.5) scale(0.94 1)" font-family="'Liberation Serif','Times New Roman',serif" font-size="33" font-weight="bold" fill="#000" text-anchor="middle" stroke="#000" stroke-width="0.35" stroke-linejoin="round" xml:space="preserve">900</text>
<text transform="translate(1679.5 672.5) scale(0.94 1)" font-family="'Liberation Serif','Times New Roman',serif" font-size="33" font-weight="bold" fill="#000" text-anchor="middle" stroke="#000" stroke-width="0.35" stroke-linejoin="round" xml:space="preserve">1000</text>
<text transform="translate(1764.5 672.5) scale(0.94 1)" font-family="'Liberation Serif','Times New Roman',serif" font-size="33" font-weight="bold" fill="#000" text-anchor="middle" stroke="#000" stroke-width="0.35" stroke-linejoin="round" xml:space="preserve">1100</text>
<text transform="translate(994.6 643.3) scale(0.94 1)" font-family="'Liberation Serif','Times New Roman',serif" font-size="33" font-weight="bold" fill="#000" text-anchor="end" stroke="#000" stroke-width="0.35" stroke-linejoin="round" xml:space="preserve">0</text>
<text transform="translate(994.6 554.4) scale(0.94 1)" font-family="'Liberation Serif','Times New Roman',serif" font-size="33" font-weight="bold" fill="#000" text-anchor="end" stroke="#000" stroke-width="0.35" stroke-linejoin="round" xml:space="preserve">10</text>
<text transform="translate(994.6 465.5) scale(0.94 1)" font-family="'Liberation Serif','Times New Roman',serif" font-size="33" font-weight="bold" fill="#000" text-anchor="end" stroke="#000" stroke-width="0.35" stroke-linejoin="round" xml:space="preserve">20</text>
<text transform="translate(994.6 376.6) scale(0.94 1)" font-family="'Liberation Serif','Times New Roman',serif" font-size="33" font-weight="bold" fill="#000" text-anchor="end" stroke="#000" stroke-width="0.35" stroke-linejoin="round" xml:space="preserve">30</text>
<text transform="translate(994.6 287.7) scale(0.94 1)" font-family="'Liberation Serif','Times New Roman',serif" font-size="33" font-weight="bold" fill="#000" text-anchor="end" stroke="#000" stroke-width="0.35" stroke-linejoin="round" xml:space="preserve">40</text>
<text transform="translate(994.6 198.8) scale(0.94 1)" font-family="'Liberation Serif','Times New Roman',serif" font-size="33" font-weight="bold" fill="#000" text-anchor="end" stroke="#000" stroke-width="0.35" stroke-linejoin="round" xml:space="preserve">50</text>
<text transform="translate(994.6 109.9) scale(0.94 1)" font-family="'Liberation Serif','Times New Roman',serif" font-size="33" font-weight="bold" fill="#000" text-anchor="end" stroke="#000" stroke-width="0.35" stroke-linejoin="round" xml:space="preserve">60</text>
<text transform="translate(994.6 21) scale(0.94 1)" font-family="'Liberation Serif','Times New Roman',serif" font-size="33" font-weight="bold" fill="#000" text-anchor="end" stroke="#000" stroke-width="0.35" stroke-linejoin="round" xml:space="preserve">70</text>
<text transform="translate(1386.2 722.1)" font-family="'Liberation Serif','Times New Roman',serif" font-size="33.4" font-weight="bold" fill="#000" text-anchor="middle" textLength="245.8" lengthAdjust="spacingAndGlyphs" stroke="#000" stroke-width="0.35" stroke-linejoin="round" xml:space="preserve">Wavelength (nm)</text>
<text transform="translate(938.5 332) rotate(-90)" font-family="'Liberation Serif','Times New Roman',serif" font-size="33.2" font-weight="bold" fill="#000" text-anchor="middle" textLength="270" lengthAdjust="spacingAndGlyphs" stroke="#000" stroke-width="0.35" stroke-linejoin="round" xml:space="preserve">Transmittance (%)</text>
<text transform="translate(1367.6 792.2)" font-family="'Liberation Serif','Times New Roman',serif" font-size="49.5" font-weight="bold" fill="#000" text-anchor="middle" stroke="#000" stroke-width="0.35" stroke-linejoin="round" xml:space="preserve">(b)</text>
<text transform="translate(1618.4 77.3)" font-family="'Liberation Serif','Times New Roman',serif" font-size="33.6" font-weight="bold" fill="#000" text-anchor="start" textLength="125.4" lengthAdjust="spacingAndGlyphs" stroke="#000" stroke-width="0.35" stroke-linejoin="round" xml:space="preserve">CuO-NPs</text>
<text transform="translate(1634.6 209.3)" font-family="'Liberation Serif','Times New Roman',serif" font-size="32.9" font-weight="bold" fill="#ff0000" text-anchor="start" textLength="124" lengthAdjust="spacingAndGlyphs" stroke="#ff0000" stroke-width="0.35" stroke-linejoin="round" xml:space="preserve">ZnO-NPs</text>
<text transform="translate(1393 500)" font-family="'Liberation Serif','Times New Roman',serif" font-size="30.6" font-weight="bold" fill="#00ff00" text-anchor="start" textLength="342" lengthAdjust="spacingAndGlyphs" stroke="#00ff00" stroke-width="0.35" stroke-linejoin="round" xml:space="preserve">CuO@ZnO core/shell NPs</text>
<rect x="744.6" y="863.5" width="37.6" height="545.1" fill="#ffff80"/>
<line x1="744.6" y1="863.5" x2="744.6" y2="1408.6" stroke="#000" stroke-width="1.2" stroke-linecap="butt"/>
<line x1="782.2" y1="863.5" x2="782.2" y2="1408.6" stroke="#6b6b2e" stroke-width="1.2" stroke-linecap="butt"/>
<path d="M107.1 1377.1 L110.9 1376.8 L112 1376.8 L114 1376.6 L116 1376.5 L118 1376.3 L120 1376.2 L122 1376.1 L124 1375.9 L126 1375.8 L128 1375.6 L130 1375.5 L132 1375.4 L134 1375.2 L136 1375.1 L138 1375 L140 1374.9 L142 1374.7 L144 1374.6 L146 1374.5 L148 1374.4 L150 1374.2 L152 1374.1 L154 1374 L156 1373.8 L158 1373.7 L160 1373.6 L162 1373.5 L164 1373.3 L166 1373.2 L168 1373 L170 1372.9 L172 1372.8 L174 1372.6 L176 1372.5 L178 1372.3 L180 1372.1 L182 1372 L184 1371.8 L186 1371.7 L188 1371.5 L190 1371.3 L192 1371.2 L194 1371 L196 1370.8 L198 1370.6 L200 1370.4 L202 1370.3 L204 1370.1 L206 1369.9 L208 1369.7 L210 1369.5 L212 1369.3 L214 1369 L216 1368.8 L218 1368.6 L220 1368.4 L222 1368.2 L224 1367.9 L226 1367.7 L228 1367.5 L230 1367.2 L232 1367 L234 1366.7 L236 1366.5 L238 1366.3 L240 1366 L242 1365.8 L244 1365.5 L246 1365.3 L248 1365 L250 1364.8 L252 1364.5 L254 1364.3 L256 1364 L258 1363.7 L260 1363.5 L262 1363.2 L264 1363 L266 1362.7 L268 1362.4 L270 1362.1 L272 1361.8 L274 1361.5 L276 1361.2 L278 1360.9 L280 1360.6 L282 1360.2 L284 1359.9 L286 1359.5 L288 1359.2 L290 1358.8 L292 1358.5 L294 1358.1 L296 1357.7 L298 1357.3 L300 1356.9 L302 1356.5 L304 1356.1 L306 1355.7 L308 1355.3 L310 1354.9 L312 1354.5 L314 1354.1 L316 1353.6 L318 1353.2 L320 1352.7 L322 1352.3 L324 1351.8 L326 1351.4 L328 1350.9 L330 1350.4 L332 1349.9 L334 1349.4 L336 1349 L338 1348.5 L340 1348 L342 1347.5 L344 1347 L346 1346.4 L348 1345.9 L350 1345.4 L352 1344.9 L354 1344.3 L356 1343.7 L358 1343.2 L360 1342.5 L362 1341.9 L364 1341.3 L366 1340.6 L368 1340 L370 1339.3 L372 1338.7 L374 1338 L376 1337.4 L378 1336.7 L380 1336 L382 1335.3 L384 1334.6 L386 1333.8 L388 1333.1 L390 1332.4 L392 1331.6 L394 1330.8 L396 1330 L398 1329.2 L400 1328.3 L402 1327.4 L404 1326.5 L406 1325.5 L408 1324.5 L410 1323.5 L412 1322.5 L414 1321.5 L416 1320.5 L418 1319.4 L420 1318.4 L422 1317.3 L424 1316.2 L426 1315.1 L428 1314 L430 1312.9 L432 1311.8 L434 1310.7 L436 1309.6 L438 1308.4 L440 1307.2 L442 1306 L444 1304.8 L446 1303.6 L448 1302.4 L450 1301.2 L452 1299.9 L454 1298.6 L456 1297.3 L458 1296 L460 1294.7 L462 1293.3 L464 1292 L466 1290.6 L468 1289.1 L470 1287.7 L472 1286.2 L474 1284.7 L476 1283.2 L478 1281.7 L480 1280.1 L482 1278.6 L484 1277 L486 1275.4 L488 1273.7 L490 1272.1 L492 1270.4 L494 1268.7 L496 1267 L498 1265.2 L500 1263.4 L502 1261.5 L504 1259.7 L506 1257.7 L508 1255.8 L510 1253.8 L512 1251.8 L514 1249.8 L516 1247.7 L518 1245.6 L520 1243.5 L522 1241.4 L524 1239.3 L526 1237.1 L528 1235 L530 1232.8 L532 1230.6 L534 1228.3 L536 1226 L538 1223.7 L540 1221.3 L542 1218.9 L544 1216.5 L546 1214 L548 1211.5 L550 1209 L552 1206.4 L554 1203.8 L556 1201.2 L558 1198.6 L560 1195.9 L562 1193.2 L564 1190.4 L566 1187.6 L568 1184.8 L570 1181.9 L572 1179 L574 1176 L576 1173 L578 1170 L580 1166.9 L582 1163.7 L584 1160.5 L586 1157.3 L588 1154 L590 1150.7 L592 1147.4 L594 1144.1 L596 1140.7 L598 1137.2 L600 1133.8 L602 1130.3 L604 1126.8 L606 1123.2 L608 1119.7 L610 1116.1 L612 1112.4 L614 1108.7 L616 1105 L618 1101.3 L620 1097.5 L622 1093.7 L624 1089.9 L626 1086 L628 1082 L630 1078.1 L632 1074.1 L634 1070.1 L636 1066.1 L638 1062 L640 1057.9 L640.1 1057.7 L646 1045.7 L651.4 1034.5 L655.9 1025.3 L659.3 1018.6 L661.8 1013.5 L663.8 1009.5 L665.8 1005.6 L667.9 1001.4 L670.4 996.4 L673 991.3 L675.5 986.4 L677.9 981.8 L679.9 978 L681.5 975.1 L682.8 972.8 L683.9 971 L684.9 969.4 L685.9 967.8 L686.9 966.3 L687.9 964.9 L688.9 963.6 L689.8 962.5 L690.7 961.6 L691.5 960.8 L692.2 960.1 L692.9 959.6 L693.6 959.2 L694.3 958.8 L695 958.6 L695.7 958.4 L696.4 958.3 L697.2 958.2 L697.9 958.2 L698.6 958.3 L699.5 958.4 L700.3 958.6 L701 958.7 L701.5 958.8 L702.1 955.2 L702.6 955.2 L703.5 955.1 L704.4 955 L705.4 954.9 L706.3 954.9 L707 954.9 L707.8 954.9 L708.5 954.9 L709.2 955 L709.8 955.2 L710.5 955.5 L711.1 955.9 L711.7 956.4 L712.3 956.9 L712.8 957.6 L713.4 958.5 L714 959.5 L714.6 960.6 L715.2 961.8 L715.8 963 L716.5 964.3 L717.1 965.6 L717.7 967 L718.3 968.3 L718.8 969.6 L719.3 970.9 L719.7 972.1 L720 973.3 L720.3 974.5 L720.6 975.6 L720.9 976.8 L721.1 978.1 L721.3 979.3 L721.5 980.3 L721.6 981 L721.8 980.2 L722 979 L722.3 977.6 L722.6 976.3 L723 975 L723.5 973.9 L724.1 972.7 L724.7 971.7 L725.4 970.6 L726 969.6 L726.6 968.7 L727.2 967.8 L727.8 966.9 L728.4 966.1 L729 965.4 L729.6 964.8 L730.2 964.2 L730.8 963.7 L731.4 963.2 L732 962.8 L732.6 962.4 L733.2 962.1 L733.8 961.8 L734.4 961.5 L735 961.2 L735.6 960.9 L736.3 960.5 L736.9 960.2 L737.5 959.9 L738 959.7 L738.5 959.6 L738.9 959.7 L739.3 959.8 L739.6 960 L739.8 960 L739.9 961 L740 962.4 L740.1 964.1 L740.3 965.9 L740.4 967.8 L740.5 970 L740.6 972.7 L740.7 975.3 L740.7 977.6 L740.8 979.2 L741 979 L741.4 978.8 L741.9 978.5 L742.4 978.1 L742.8 977.4 L743.2 976.4 L743.6 975 L744 973.6 L744.3 972.3 L744.6 971.4" fill="none" stroke="#000" stroke-width="4.6" stroke-linecap="butt" stroke-linejoin="round"/>
<line x1="745.2" y1="967.4" x2="778.6" y2="890.8" stroke="#0000ff" stroke-width="4.8" stroke-linecap="round"/>
<line x1="164.7" y1="1408.6" x2="164.7" y2="1403.3" stroke="#000" stroke-width="4.6" stroke-linecap="butt"/>
<line x1="164.7" y1="863.5" x2="164.7" y2="868.8" stroke="#000" stroke-width="4.6" stroke-linecap="butt"/>
<line x1="220.8" y1="1408.6" x2="220.8" y2="1397.8" stroke="#000" stroke-width="4.6" stroke-linecap="butt"/>
<line x1="220.8" y1="863.5" x2="220.8" y2="874.3" stroke="#000" stroke-width="4.6" stroke-linecap="butt"/>
<line x1="277" y1="1408.6" x2="277" y2="1403.3" stroke="#000" stroke-width="4.6" stroke-linecap="butt"/>
<line x1="277" y1="863.5" x2="277" y2="868.8" stroke="#000" stroke-width="4.6" stroke-linecap="butt"/>
<line x1="333.1" y1="1408.6" x2="333.1" y2="1397.8" stroke="#000" stroke-width="4.6" stroke-linecap="butt"/>
<line x1="333.1" y1="863.5" x2="333.1" y2="874.3" stroke="#000" stroke-width="4.6" stroke-linecap="butt"/>
<line x1="389.2" y1="1408.6" x2="389.2" y2="1403.3" stroke="#000" stroke-width="4.6" stroke-linecap="butt"/>
<line x1="389.2" y1="863.5" x2="389.2" y2="868.8" stroke="#000" stroke-width="4.6" stroke-linecap="butt"/>
<line x1="445.4" y1="1408.6" x2="445.4" y2="1397.8" stroke="#000" stroke-width="4.6" stroke-linecap="butt"/>
<line x1="445.4" y1="863.5" x2="445.4" y2="874.3" stroke="#000" stroke-width="4.6" stroke-linecap="butt"/>
<line x1="501.6" y1="1408.6" x2="501.6" y2="1403.3" stroke="#000" stroke-width="4.6" stroke-linecap="butt"/>
<line x1="501.6" y1="863.5" x2="501.6" y2="868.8" stroke="#000" stroke-width="4.6" stroke-linecap="butt"/>
<line x1="557.7" y1="1408.6" x2="557.7" y2="1397.8" stroke="#000" stroke-width="4.6" stroke-linecap="butt"/>
<line x1="557.7" y1="863.5" x2="557.7" y2="874.3" stroke="#000" stroke-width="4.6" stroke-linecap="butt"/>
<line x1="613.9" y1="1408.6" x2="613.9" y2="1403.3" stroke="#000" stroke-width="4.6" stroke-linecap="butt"/>
<line x1="613.9" y1="863.5" x2="613.9" y2="868.8" stroke="#000" stroke-width="4.6" stroke-linecap="butt"/>
<line x1="670" y1="1408.6" x2="670" y2="1397.8" stroke="#000" stroke-width="4.6" stroke-linecap="butt"/>
<line x1="670" y1="863.5" x2="670" y2="874.3" stroke="#000" stroke-width="4.6" stroke-linecap="butt"/>
<line x1="726.1" y1="1408.6" x2="726.1" y2="1403.3" stroke="#000" stroke-width="4.6" stroke-linecap="butt"/>
<line x1="726.1" y1="863.5" x2="726.1" y2="868.8" stroke="#000" stroke-width="4.6" stroke-linecap="butt"/>
<line x1="782.3" y1="1408.6" x2="782.3" y2="1397.8" stroke="#000" stroke-width="4.6" stroke-linecap="butt"/>
<line x1="782.3" y1="863.5" x2="782.3" y2="874.3" stroke="#000" stroke-width="4.6" stroke-linecap="butt"/>
<line x1="838.5" y1="1408.6" x2="838.5" y2="1403.3" stroke="#000" stroke-width="4.6" stroke-linecap="butt"/>
<line x1="838.5" y1="863.5" x2="838.5" y2="868.8" stroke="#000" stroke-width="4.6" stroke-linecap="butt"/>
<line x1="108.5" y1="1354.1" x2="114.5" y2="1354.1" stroke="#000" stroke-width="4.6" stroke-linecap="butt"/>
<line x1="108.5" y1="1299.6" x2="121" y2="1299.6" stroke="#000" stroke-width="4.6" stroke-linecap="butt"/>
<line x1="108.5" y1="1245.1" x2="114.5" y2="1245.1" stroke="#000" stroke-width="4.6" stroke-linecap="butt"/>
<line x1="108.5" y1="1190.6" x2="121" y2="1190.6" stroke="#000" stroke-width="4.6" stroke-linecap="butt"/>
<line x1="108.5" y1="1136" x2="114.5" y2="1136" stroke="#000" stroke-width="4.6" stroke-linecap="butt"/>
<line x1="108.5" y1="1081.5" x2="121" y2="1081.5" stroke="#000" stroke-width="4.6" stroke-linecap="butt"/>
<line x1="108.5" y1="1027" x2="114.5" y2="1027" stroke="#000" stroke-width="4.6" stroke-linecap="butt"/>
<line x1="108.5" y1="972.5" x2="121" y2="972.5" stroke="#000" stroke-width="4.6" stroke-linecap="butt"/>
<line x1="108.5" y1="918" x2="114.5" y2="918" stroke="#000" stroke-width="4.6" stroke-linecap="butt"/>
<rect x="108.5" y="863.5" width="786.1" height="545.1" fill="none" stroke="#000" stroke-width="4.75"/>
<text transform="translate(108 1439.1) scale(1.11 1)" font-family="'Liberation Serif','Times New Roman',serif" font-size="24" font-weight="bold" fill="#000" text-anchor="middle" stroke="#000" stroke-width="0.35" stroke-linejoin="round" xml:space="preserve">-5</text>
<text transform="translate(220.3 1439.1) scale(1.11 1)" font-family="'Liberation Serif','Times New Roman',serif" font-size="24" font-weight="bold" fill="#000" text-anchor="middle" stroke="#000" stroke-width="0.35" stroke-linejoin="round" xml:space="preserve">-4</text>
<text transform="translate(332.6 1439.1) scale(1.11 1)" font-family="'Liberation Serif','Times New Roman',serif" font-size="24" font-weight="bold" fill="#000" text-anchor="middle" stroke="#000" stroke-width="0.35" stroke-linejoin="round" xml:space="preserve">-3</text>
<text transform="translate(444.9 1439.1) scale(1.11 1)" font-family="'Liberation Serif','Times New Roman',serif" font-size="24" font-weight="bold" fill="#000" text-anchor="middle" stroke="#000" stroke-width="0.35" stroke-linejoin="round" xml:space="preserve">-2</text>
<text transform="translate(557.2 1439.1) scale(1.11 1)" font-family="'Liberation Serif','Times New Roman',serif" font-size="24" font-weight="bold" fill="#000" text-anchor="middle" stroke="#000" stroke-width="0.35" stroke-linejoin="round" xml:space="preserve">-1</text>
<text transform="translate(670 1439.1) scale(1.11 1)" font-family="'Liberation Serif','Times New Roman',serif" font-size="24" font-weight="bold" fill="#000" text-anchor="middle" stroke="#000" stroke-width="0.35" stroke-linejoin="round" xml:space="preserve">0</text>
<text transform="translate(782.3 1439.1) scale(1.11 1)" font-family="'Liberation Serif','Times New Roman',serif" font-size="24" font-weight="bold" fill="#000" text-anchor="middle" stroke="#000" stroke-width="0.35" stroke-linejoin="round" xml:space="preserve">1</text>
<text transform="translate(894.6 1439.1) scale(1.11 1)" font-family="'Liberation Serif','Times New Roman',serif" font-size="24" font-weight="bold" fill="#000" text-anchor="middle" stroke="#000" stroke-width="0.35" stroke-linejoin="round" xml:space="preserve">2</text>
<text transform="translate(95.6 1415.5) scale(1.11 1)" font-family="'Liberation Serif','Times New Roman',serif" font-size="24" font-weight="bold" fill="#000" text-anchor="end" stroke="#000" stroke-width="0.35" stroke-linejoin="round" xml:space="preserve">2.0</text>
<text transform="translate(95.6 1306.5) scale(1.11 1)" font-family="'Liberation Serif','Times New Roman',serif" font-size="24" font-weight="bold" fill="#000" text-anchor="end" stroke="#000" stroke-width="0.35" stroke-linejoin="round" xml:space="preserve">2.2</text>
<text transform="translate(95.6 1197.5) scale(1.11 1)" font-family="'Liberation Serif','Times New Roman',serif" font-size="24" font-weight="bold" fill="#000" text-anchor="end" stroke="#000" stroke-width="0.35" stroke-linejoin="round" xml:space="preserve">2.4</text>
<text transform="translate(95.6 1088.4) scale(1.11 1)" font-family="'Liberation Serif','Times New Roman',serif" font-size="24" font-weight="bold" fill="#000" text-anchor="end" stroke="#000" stroke-width="0.35" stroke-linejoin="round" xml:space="preserve">2.6</text>
<text transform="translate(95.6 979.4) scale(1.11 1)" font-family="'Liberation Serif','Times New Roman',serif" font-size="24" font-weight="bold" fill="#000" text-anchor="end" stroke="#000" stroke-width="0.35" stroke-linejoin="round" xml:space="preserve">2.8</text>
<text transform="translate(95.6 870.4) scale(1.11 1)" font-family="'Liberation Serif','Times New Roman',serif" font-size="24" font-weight="bold" fill="#000" text-anchor="end" stroke="#000" stroke-width="0.35" stroke-linejoin="round" xml:space="preserve">3.0</text>
<text transform="translate(501.7 1485.9) scale(1.225 1)" font-family="'Liberation Serif','Times New Roman',serif" font-size="28" font-weight="bold" fill="#000" text-anchor="middle" stroke="#000" stroke-width="0.35" stroke-linejoin="round" xml:space="preserve">ln (hν-E<tspan font-size="18" dy="6">g</tspan><tspan dy="-6">)</tspan></text>
<text transform="translate(24.4 1125.9) rotate(-90)" font-family="'Liberation Serif','Times New Roman',serif" font-size="31" font-weight="bold" fill="#000" text-anchor="middle" textLength="98.5" lengthAdjust="spacingAndGlyphs" stroke="#000" stroke-width="0.35" stroke-linejoin="round" xml:space="preserve">ln (αhν)</text>
<text transform="translate(487.6 1547.6)" font-family="'Liberation Serif','Times New Roman',serif" font-size="44.8" font-weight="bold" fill="#000" text-anchor="middle" stroke="#000" stroke-width="0.35" stroke-linejoin="round" xml:space="preserve">(c)</text>
<text transform="translate(222 1007)" font-family="'Liberation Serif','Times New Roman',serif" font-size="27.3" font-weight="bold" fill="#000" text-anchor="start" textLength="349" lengthAdjust="spacingAndGlyphs" stroke="#000" stroke-width="0.35" stroke-linejoin="round" xml:space="preserve">CuO@ ZnO  core/shell NPs</text>
<text transform="translate(273 1158)" font-family="'Liberation Serif','Times New Roman',serif" font-size="28.5" font-weight="bold" fill="#ff0000" text-anchor="start" textLength="195" lengthAdjust="spacingAndGlyphs" stroke="#ff0000" stroke-width="0.35" stroke-linejoin="round" xml:space="preserve">Slope= r = 0.5</text>
<text transform="translate(339 908.6)" font-family="'Liberation Sans',Arial,sans-serif" font-size="21.5" font-weight="normal" fill="#000" text-anchor="start" textLength="394" lengthAdjust="spacingAndGlyphs" stroke="#000" stroke-width="0.3" stroke-linejoin="round" xml:space="preserve">Intercept = 2.49852, Slope = 0.46694</text>
<text transform="translate(417.4 933.2)" font-family="'Liberation Sans',Arial,sans-serif" font-size="21.5" font-weight="normal" fill="#000" text-anchor="start" textLength="236.4" lengthAdjust="spacingAndGlyphs" stroke="#000" stroke-width="0.3" stroke-linejoin="round" xml:space="preserve">X Intercept = -5.35086</text>
<path d="M1115.9 1435 L1118.3 1434.4 L1119 1434.2 L1121 1433.6 L1123 1433 L1125 1432.5 L1127 1431.9 L1129 1431.4 L1131.1 1430.8 L1133.1 1430.3 L1135.1 1429.7 L1137.1 1429.2 L1139.1 1428.6 L1141.1 1428 L1143.1 1427.5 L1145.1 1426.9 L1147.1 1426.3 L1149.1 1425.7 L1151.1 1425.1 L1153.1 1424.5 L1155.2 1423.8 L1157.2 1423.2 L1159.2 1422.6 L1161.2 1421.9 L1163.2 1421.2 L1165.2 1420.5 L1167.2 1419.9 L1169.2 1419.1 L1171.2 1418.4 L1173.2 1417.7 L1175.2 1417 L1177.2 1416.2 L1179.3 1415.4 L1181.3 1414.6 L1183.3 1413.9 L1185.3 1413.1 L1187.3 1412.2 L1189.3 1411.4 L1191.3 1410.6 L1193.3 1409.7 L1195.3 1408.9 L1197.3 1408 L1199.3 1407.1 L1201.4 1406.2 L1203.4 1405.3 L1205.4 1404.3 L1207.4 1403.4 L1209.4 1402.4 L1211.4 1401.4 L1213.4 1400.4 L1215.4 1399.3 L1217.4 1398.2 L1219.4 1397.1 L1221.4 1396 L1223.4 1394.8 L1225.5 1393.6 L1227.5 1392.4 L1229.5 1391.2 L1231.5 1389.9 L1233.5 1388.6 L1235.5 1387.3 L1237.5 1386 L1239.5 1384.7 L1241.5 1383.3 L1243.5 1382 L1245.5 1380.6 L1247.6 1379.3 L1249.6 1377.9 L1251.6 1376.5 L1253.6 1375.1 L1255.6 1373.7 L1257.6 1372.2 L1259.6 1370.8 L1261.6 1369.4 L1263.6 1367.9 L1265.6 1366.4 L1267.6 1365 L1269.6 1363.5 L1271.7 1362 L1273.7 1360.5 L1275.7 1359 L1277.7 1357.4 L1279.7 1355.9 L1281.7 1354.3 L1283.7 1352.7 L1285.7 1351.1 L1287.7 1349.5 L1289.7 1347.9 L1291.7 1346.2 L1293.8 1344.6 L1295.8 1342.9 L1297.8 1341.3 L1299.8 1339.6 L1301.8 1337.9 L1303.8 1336.2 L1305.8 1334.5 L1307.8 1332.8 L1309.8 1331.1 L1311.8 1329.4 L1313.8 1327.7 L1315.8 1325.9 L1317.9 1324.2 L1319.9 1322.4 L1321.9 1320.7 L1323.9 1318.9 L1325.9 1317.1 L1327.9 1315.4 L1329.9 1313.6 L1331.9 1311.9 L1333.9 1310.1 L1335.9 1308.4 L1337.9 1306.7 L1339.9 1305 L1342 1303.4 L1344 1301.8 L1346 1300.2 L1348 1298.5 L1350 1296.7 L1352 1294.7 L1355.5 1291.2 L1361.1 1285.2 L1366.8 1279 L1371.9 1273.4 L1375.7 1269.3 L1377.9 1266.9 L1378.9 1265.8 L1379.3 1265.4 L1379.5 1265.1 L1380 1264.4 L1380.9 1263.2 L1381.7 1261.9 L1382.6 1260.6 L1383.4 1259.2 L1384.3 1257.6 L1385.3 1256 L1386.2 1254.2 L1387.2 1252.4 L1388.2 1250.4 L1389.2 1248.4 L1390.2 1246.3 L1391.2 1244.1 L1392.2 1241.8 L1393.2 1239.6 L1394.1 1237.4 L1395 1235.3 L1395.7 1233.2 L1396.5 1231.2 L1397.2 1229.3 L1397.8 1227.6 L1398.4 1226.1 L1398.9 1224.7 L1399.3 1223.5 L1399.8 1222.4 L1400.3 1221.5 L1400.7 1220.6 L1401.2 1219.9 L1401.7 1219.3 L1402.2 1218.8 L1402.7 1218.4 L1403.2 1218.1 L1403.7 1217.8 L1404.2 1217.6 L1404.7 1217.5 L1405.2 1217.6 L1405.6 1217.6 L1406.1 1217.8 L1406.5 1218.1 L1407 1218.5 L1407.6 1219 L1408.2 1219.8 L1408.9 1220.7 L1409.7 1221.8 L1410.4 1222.9 L1411.3 1223.9 L1412.2 1225 L1413.2 1226.2 L1414.2 1227.3 L1415.2 1228.4 L1416.2 1229.4 L1417.2 1230.3 L1418.1 1231.1 L1419.1 1231.9 L1420.1 1232.5 L1421.1 1233.1 L1422.1 1233.6 L1423 1234 L1424 1234.3 L1425 1234.5 L1426 1234.7 L1427 1234.8 L1427.9 1234.9 L1428.9 1234.9 L1429.9 1234.8 L1430.9 1234.7 L1431.9 1234.6 L1432.9 1234.3 L1433.8 1234.1 L1434.8 1233.8 L1435.8 1233.5 L1436.8 1233.2 L1437.8 1232.9 L1438.7 1232.6 L1439.7 1232.3 L1440.7 1231.9 L1441.7 1231.5 L1442.7 1231.1 L1443.6 1230.7 L1444.6 1230.3 L1445.6 1229.8 L1446.7 1229.3 L1447.8 1228.7 L1448.9 1228.2 L1449.8 1227.7 L1450.5 1227.4 L1451.7 1234.3 L1452.4 1233.9 L1453.3 1233.4 L1454.3 1232.7 L1455.5 1232 L1456.6 1231.3 L1457.8 1230.6 L1459 1229.8 L1460.2 1229 L1461.5 1228.2 L1462.8 1227.4 L1464 1226.5 L1465.3 1225.7 L1466.6 1224.9 L1467.8 1224.1 L1468.9 1223.3 L1469.8 1222.6 L1470.5 1222 L1471.1 1221.4 L1471.8 1220.8 L1472.6 1220.3 L1473.5 1219.8 L1474.4 1219.4 L1475.4 1219.1 L1476.5 1218.6 L1477.5 1218 L1478.4 1217.3 L1479.4 1216.4 L1480.4 1215.4 L1481.4 1214.4 L1482.4 1213.5 L1483.3 1212.8 L1484.1 1212.1 L1485 1211.5 L1486 1210.8 L1487.3 1209.8 L1488.9 1208.7 L1490.7 1207.4 L1492.7 1205.9 L1494.9 1204.4 L1497.1 1202.8 L1499.4 1201.2 L1501.8 1199.4 L1504.3 1197.5 L1506.8 1195.7 L1509.3 1193.9 L1511.8 1192.1 L1514.4 1190.4 L1516.9 1188.6 L1519.3 1186.9 L1521.6 1185.3 L1523.4 1184.1 L1524.8 1183.3 L1526.2 1182.4 L1528.3 1181 L1531.4 1178.6 L1535.7 1175.2 L1540.9 1171 L1546.8 1166.3 L1553.2 1161 L1560 1155.4 L1567.3 1149.2 L1575.2 1142.4 L1583.5 1135.3 L1591.8 1128.1 L1600 1121 L1608.2 1114 L1616.5 1106.8 L1624.7 1099.7 L1632.6 1092.9 L1640 1086.6 L1646.9 1080.7 L1653.5 1075 L1659.7 1069.8 L1665.2 1065 L1670 1060.8 L1673.8 1057.4 L1676.9 1054.6 L1679.3 1052.3 L1681.4 1050.2 L1683.5 1047.9 L1685.4 1045.8 L1686.9 1043.8 L1688.3 1041.9 L1689.6 1039.8 L1691 1037.5 L1692.5 1035 L1694 1032.4 L1695.5 1029.6 L1697 1026.6 L1698.6 1023.4 L1700.4 1019.8 L1702.3 1015.9 L1704.2 1011.8 L1706.1 1007.6 L1708.1 1003.5 L1710 999.3 L1711.9 995 L1713.9 990.7 L1715.8 986.6 L1717.5 982.7 L1719.2 979.1 L1720.7 975.8 L1722.2 972.6 L1723.6 969.6 L1725.1 966.6 L1726.6 963.7 L1728.2 960.8 L1729.8 958.1 L1731.3 955.5 L1732.7 953.4 L1733.9 951.6 L1735.2 950.1 L1736.3 948.8 L1737.4 947.7 L1738.3 946.7 L1739.2 946 L1739.9 945.6 L1740.6 945.2 L1741.3 944.7 L1742.1 943.9 L1743.1 942.7 L1744.3 941.2 L1745.5 939.6 L1746.7 937.9 L1747.8 936.3 L1748.8 934.8 L1749.8 933.3 L1750.8 931.8 L1751.7 930.3 L1752.5 928.8 L1753.2 927.2 L1753.8 925.6 L1754.3 924 L1754.8 922.5 L1755.4 921.2 L1755.9 920.2 L1756.5 919.3 L1757.1 918.6 L1757.6 917.9 L1758.2 917.4 L1758.8 917 L1759.3 916.7 L1759.9 916.5 L1760.5 916.4 L1761 916.5 L1761.6 916.9 L1762.3 917.5 L1762.9 918.2 L1763.5 918.9 L1763.9 919.3" fill="none" stroke="#000" stroke-width="4.2" stroke-linecap="round" stroke-linejoin="round"/>
<line x1="1099.1" y1="1442.5" x2="1099.1" y2="1430.7" stroke="#000" stroke-width="4.6" stroke-linecap="butt"/>
<line x1="1099.1" y1="851" x2="1099.1" y2="862.8" stroke="#000" stroke-width="4.6" stroke-linecap="butt"/>
<line x1="1165.8" y1="1442.5" x2="1165.8" y2="1437" stroke="#000" stroke-width="4.6" stroke-linecap="butt"/>
<line x1="1165.8" y1="851" x2="1165.8" y2="856.5" stroke="#000" stroke-width="4.6" stroke-linecap="butt"/>
<line x1="1232.5" y1="1442.5" x2="1232.5" y2="1430.7" stroke="#000" stroke-width="4.6" stroke-linecap="butt"/>
<line x1="1232.5" y1="851" x2="1232.5" y2="862.8" stroke="#000" stroke-width="4.6" stroke-linecap="butt"/>
<line x1="1299.2" y1="1442.5" x2="1299.2" y2="1437" stroke="#000" stroke-width="4.6" stroke-linecap="butt"/>
<line x1="1299.2" y1="851" x2="1299.2" y2="856.5" stroke="#000" stroke-width="4.6" stroke-linecap="butt"/>
<line x1="1365.9" y1="1442.5" x2="1365.9" y2="1430.7" stroke="#000" stroke-width="4.6" stroke-linecap="butt"/>
<line x1="1365.9" y1="851" x2="1365.9" y2="862.8" stroke="#000" stroke-width="4.6" stroke-linecap="butt"/>
<line x1="1432.5" y1="1442.5" x2="1432.5" y2="1437" stroke="#000" stroke-width="4.6" stroke-linecap="butt"/>
<line x1="1432.5" y1="851" x2="1432.5" y2="856.5" stroke="#000" stroke-width="4.6" stroke-linecap="butt"/>
<line x1="1499.2" y1="1442.5" x2="1499.2" y2="1430.7" stroke="#000" stroke-width="4.6" stroke-linecap="butt"/>
<line x1="1499.2" y1="851" x2="1499.2" y2="862.8" stroke="#000" stroke-width="4.6" stroke-linecap="butt"/>
<line x1="1565.9" y1="1442.5" x2="1565.9" y2="1437" stroke="#000" stroke-width="4.6" stroke-linecap="butt"/>
<line x1="1565.9" y1="851" x2="1565.9" y2="856.5" stroke="#000" stroke-width="4.6" stroke-linecap="butt"/>
<line x1="1632.6" y1="1442.5" x2="1632.6" y2="1430.7" stroke="#000" stroke-width="4.6" stroke-linecap="butt"/>
<line x1="1632.6" y1="851" x2="1632.6" y2="862.8" stroke="#000" stroke-width="4.6" stroke-linecap="butt"/>
<line x1="1699.3" y1="1442.5" x2="1699.3" y2="1437" stroke="#000" stroke-width="4.6" stroke-linecap="butt"/>
<line x1="1699.3" y1="851" x2="1699.3" y2="856.5" stroke="#000" stroke-width="4.6" stroke-linecap="butt"/>
<line x1="1032.4" y1="1407.7" x2="1037.8" y2="1407.7" stroke="#000" stroke-width="4.6" stroke-linecap="butt"/>
<line x1="1032.4" y1="1372.9" x2="1043.4" y2="1372.9" stroke="#000" stroke-width="4.6" stroke-linecap="butt"/>
<line x1="1032.4" y1="1338.1" x2="1037.8" y2="1338.1" stroke="#000" stroke-width="4.6" stroke-linecap="butt"/>
<line x1="1032.4" y1="1303.3" x2="1043.4" y2="1303.3" stroke="#000" stroke-width="4.6" stroke-linecap="butt"/>
<line x1="1032.4" y1="1268.5" x2="1037.8" y2="1268.5" stroke="#000" stroke-width="4.6" stroke-linecap="butt"/>
<line x1="1032.4" y1="1233.7" x2="1043.4" y2="1233.7" stroke="#000" stroke-width="4.6" stroke-linecap="butt"/>
<line x1="1032.4" y1="1198.9" x2="1037.8" y2="1198.9" stroke="#000" stroke-width="4.6" stroke-linecap="butt"/>
<line x1="1032.4" y1="1164.1" x2="1043.4" y2="1164.1" stroke="#000" stroke-width="4.6" stroke-linecap="butt"/>
<line x1="1032.4" y1="1129.3" x2="1037.8" y2="1129.3" stroke="#000" stroke-width="4.6" stroke-linecap="butt"/>
<line x1="1032.4" y1="1094.5" x2="1043.4" y2="1094.5" stroke="#000" stroke-width="4.6" stroke-linecap="butt"/>
<line x1="1032.4" y1="1059.7" x2="1037.8" y2="1059.7" stroke="#000" stroke-width="4.6" stroke-linecap="butt"/>
<line x1="1032.4" y1="1024.9" x2="1043.4" y2="1024.9" stroke="#000" stroke-width="4.6" stroke-linecap="butt"/>
<line x1="1032.4" y1="990.1" x2="1037.8" y2="990.1" stroke="#000" stroke-width="4.6" stroke-linecap="butt"/>
<line x1="1032.4" y1="920.5" x2="1037.8" y2="920.5" stroke="#000" stroke-width="4.6" stroke-linecap="butt"/>
<rect x="1032.4" y="851" width="733.6" height="591.5" fill="none" stroke="#000" stroke-width="4.75"/>
<line x1="1371.3" y1="1276.2" x2="1216.3" y2="1426.6" stroke="#ff0000" stroke-width="4.0" stroke-linecap="butt"/>
<polygon points="1194.4,1447.8 1212.2,1419.5 1223.2,1430.8" fill="#ff0000"/>
<line x1="1683.9" y1="1048.9" x2="1245.2" y2="1425.9" stroke="#ff0000" stroke-width="4.0" stroke-linecap="butt"/>
<polygon points="1222.1,1445.8 1241.6,1418.6 1251.9,1430.6" fill="#ff0000"/>
<text transform="translate(1099.1 1475.5) scale(0.92 1)" font-family="'Liberation Serif','Times New Roman',serif" font-size="28" font-weight="bold" fill="#000" text-anchor="middle" stroke="#000" stroke-width="0.35" stroke-linejoin="round" xml:space="preserve">1</text>
<text transform="translate(1232.5 1475.5) scale(0.92 1)" font-family="'Liberation Serif','Times New Roman',serif" font-size="28" font-weight="bold" fill="#000" text-anchor="middle" stroke="#000" stroke-width="0.35" stroke-linejoin="round" xml:space="preserve">2</text>
<text transform="translate(1365.9 1475.5) scale(0.92 1)" font-family="'Liberation Serif','Times New Roman',serif" font-size="28" font-weight="bold" fill="#000" text-anchor="middle" stroke="#000" stroke-width="0.35" stroke-linejoin="round" xml:space="preserve">3</text>
<text transform="translate(1499.2 1475.5) scale(0.92 1)" font-family="'Liberation Serif','Times New Roman',serif" font-size="28" font-weight="bold" fill="#000" text-anchor="middle" stroke="#000" stroke-width="0.35" stroke-linejoin="round" xml:space="preserve">4</text>
<text transform="translate(1632.6 1475.5) scale(0.92 1)" font-family="'Liberation Serif','Times New Roman',serif" font-size="28" font-weight="bold" fill="#000" text-anchor="middle" stroke="#000" stroke-width="0.35" stroke-linejoin="round" xml:space="preserve">5</text>
<text transform="translate(1766 1475.5) scale(0.92 1)" font-family="'Liberation Serif','Times New Roman',serif" font-size="28" font-weight="bold" fill="#000" text-anchor="middle" stroke="#000" stroke-width="0.35" stroke-linejoin="round" xml:space="preserve">6</text>
<text transform="translate(1020.2 1450.5) scale(0.92 1)" font-family="'Liberation Serif','Times New Roman',serif" font-size="28" font-weight="bold" fill="#000" text-anchor="end" stroke="#000" stroke-width="0.35" stroke-linejoin="round" xml:space="preserve">0</text>
<text transform="translate(1020.2 1380.9) scale(0.92 1)" font-family="'Liberation Serif','Times New Roman',serif" font-size="28" font-weight="bold" fill="#000" text-anchor="end" stroke="#000" stroke-width="0.35" stroke-linejoin="round" xml:space="preserve">10</text>
<text transform="translate(1020.2 1311.3) scale(0.92 1)" font-family="'Liberation Serif','Times New Roman',serif" font-size="28" font-weight="bold" fill="#000" text-anchor="end" stroke="#000" stroke-width="0.35" stroke-linejoin="round" xml:space="preserve">20</text>
<text transform="translate(1020.2 1241.7) scale(0.92 1)" font-family="'Liberation Serif','Times New Roman',serif" font-size="28" font-weight="bold" fill="#000" text-anchor="end" stroke="#000" stroke-width="0.35" stroke-linejoin="round" xml:space="preserve">30</text>
<text transform="translate(1020.2 1172.1) scale(0.92 1)" font-family="'Liberation Serif','Times New Roman',serif" font-size="28" font-weight="bold" fill="#000" text-anchor="end" stroke="#000" stroke-width="0.35" stroke-linejoin="round" xml:space="preserve">40</text>
<text transform="translate(1020.2 1102.5) scale(0.92 1)" font-family="'Liberation Serif','Times New Roman',serif" font-size="28" font-weight="bold" fill="#000" text-anchor="end" stroke="#000" stroke-width="0.35" stroke-linejoin="round" xml:space="preserve">50</text>
<text transform="translate(1020.2 1032.9) scale(0.92 1)" font-family="'Liberation Serif','Times New Roman',serif" font-size="28" font-weight="bold" fill="#000" text-anchor="end" stroke="#000" stroke-width="0.35" stroke-linejoin="round" xml:space="preserve">60</text>
<text transform="translate(1020.2 963.3) scale(0.92 1)" font-family="'Liberation Serif','Times New Roman',serif" font-size="28" font-weight="bold" fill="#000" text-anchor="end" stroke="#000" stroke-width="0.35" stroke-linejoin="round" xml:space="preserve">70</text>
<text transform="translate(1020.2 893.7) scale(0.92 1)" font-family="'Liberation Serif','Times New Roman',serif" font-size="28" font-weight="bold" fill="#000" text-anchor="end" stroke="#000" stroke-width="0.35" stroke-linejoin="round" xml:space="preserve">80</text>
<text transform="translate(1399.3 1522.7)" font-family="'Liberation Serif','Times New Roman',serif" font-size="31.2" font-weight="bold" fill="#000" text-anchor="middle" textLength="159.5" lengthAdjust="spacingAndGlyphs" stroke="#000" stroke-width="0.35" stroke-linejoin="round" xml:space="preserve">Energy (eV)</text>
<text transform="translate(960.7 1135.6) rotate(-90) scale(0.842 1)" font-family="'Liberation Serif','Times New Roman',serif" font-size="38" font-weight="bold" fill="#000" text-anchor="middle" stroke="#000" stroke-width="0.35" stroke-linejoin="round" xml:space="preserve">(αhν)<tspan font-size="24" dy="-13">2</tspan><tspan dy="13">(eV cm</tspan><tspan font-size="24" dy="-13">−1</tspan><tspan dy="13">)</tspan><tspan font-size="24" dy="-13">2</tspan></text>
<text transform="translate(1398.1 1576.5)" font-family="'Liberation Serif','Times New Roman',serif" font-size="48" font-weight="bold" fill="#000" text-anchor="middle" stroke="#000" stroke-width="0.35" stroke-linejoin="round" xml:space="preserve">(d)</text>
<text transform="translate(1247 954)" font-family="'Liberation Serif','Times New Roman',serif" font-size="27.2" font-weight="bold" fill="#000" text-anchor="start" textLength="283.5" lengthAdjust="spacingAndGlyphs" stroke="#000" stroke-width="0.35" stroke-linejoin="round" xml:space="preserve">CuO@ ZnO  Core/Shell</text>
<text transform="translate(1051 1359) scale(0.95 1)" font-family="'Liberation Serif','Times New Roman',serif" font-size="32.5" font-weight="bold" fill="#000" text-anchor="start" stroke="#000" stroke-width="0.35" stroke-linejoin="round" xml:space="preserve">E<tspan font-size="22" dy="9">g1</tspan><tspan dy="-9">=1.77 eV</tspan></text>
<text transform="translate(1322 1423) scale(0.95 1)" font-family="'Liberation Serif','Times New Roman',serif" font-size="32.5" font-weight="bold" fill="#000" text-anchor="start" stroke="#000" stroke-width="0.35" stroke-linejoin="round" xml:space="preserve">E<tspan font-size="22" dy="9">g2</tspan><tspan dy="-9">=1.97 eV</tspan></text>
</svg>
</body></html>
